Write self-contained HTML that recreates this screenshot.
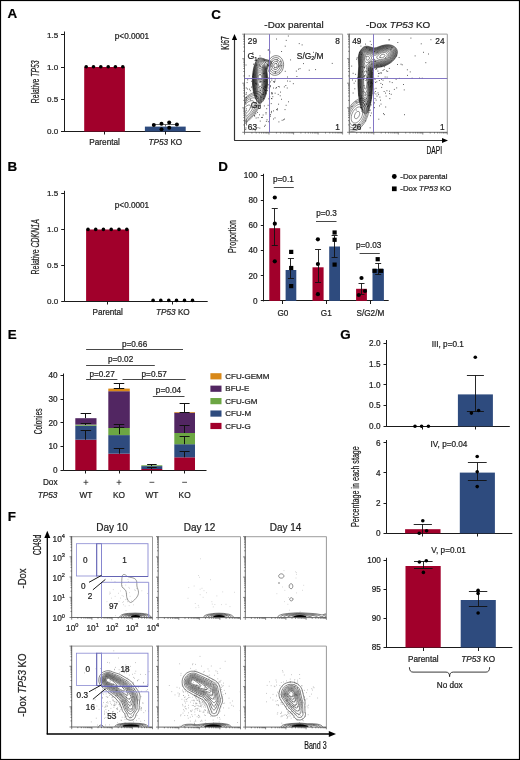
<!DOCTYPE html>
<html><head><meta charset="utf-8"><style>
html,body{margin:0;padding:0;background:#fff;}
svg{display:block;font-family:"Liberation Sans",sans-serif;will-change:transform;}
text{stroke:#222;stroke-width:0.22px;paint-order:stroke;}
</style></head><body>
<svg width="520" height="760" viewBox="0 0 520 760">
<rect x="0" y="0" width="520" height="760" fill="#fff"/>
<text x="7.6" y="18.4" font-size="13.4" font-weight="bold" fill="#000">A</text>
<line x1="64.5" y1="31.5" x2="64.5" y2="132.0" stroke="#1a1a1a" stroke-width="1" />
<line x1="64" y1="131.5" x2="200.5" y2="131.5" stroke="#1a1a1a" stroke-width="1" />
<line x1="61" y1="34.5" x2="64" y2="34.5" stroke="#1a1a1a" stroke-width="1" />
<text x="58.2" y="37.599999999999994" font-size="8.1" text-anchor="end" fill="#222" >1.5</text>
<line x1="61" y1="67.5" x2="64" y2="67.5" stroke="#1a1a1a" stroke-width="1" />
<text x="58.2" y="69.89999999999999" font-size="8.1" text-anchor="end" fill="#222" >1.0</text>
<line x1="61" y1="99.5" x2="64" y2="99.5" stroke="#1a1a1a" stroke-width="1" />
<text x="58.2" y="102.2" font-size="8.1" text-anchor="end" fill="#222" >0.5</text>
<line x1="61" y1="131.5" x2="64" y2="131.5" stroke="#1a1a1a" stroke-width="1" />
<text x="58.2" y="134.3" font-size="8.1" text-anchor="end" fill="#222" >0.0</text>
<rect x="84.2" y="67" width="40.7" height="64.5" fill="#A1002B" />
<rect x="144.9" y="126.6" width="40.8" height="4.900000000000006" fill="#2E4B7E" />
<circle cx="86.2" cy="66.8" r="1.8" fill="#000"/>
<circle cx="93.5" cy="66.8" r="1.8" fill="#000"/>
<circle cx="100.8" cy="66.8" r="1.8" fill="#000"/>
<circle cx="108.2" cy="66.8" r="1.8" fill="#000"/>
<circle cx="115.4" cy="66.8" r="1.8" fill="#000"/>
<circle cx="122.8" cy="66.8" r="1.8" fill="#000"/>
<line x1="104.5" y1="131.5" x2="104.5" y2="134.5" stroke="#1a1a1a" stroke-width="1" />
<line x1="165.5" y1="131.5" x2="165.5" y2="134.5" stroke="#1a1a1a" stroke-width="1" />
<line x1="165.5" y1="124.6" x2="165.5" y2="126.6" stroke="#444" stroke-width="0.8" />
<line x1="153.9" y1="124.5" x2="176.9" y2="124.5" stroke="#444" stroke-width="0.8" />
<circle cx="153.8" cy="124.9" r="2.0" fill="#000"/>
<circle cx="161.5" cy="123.8" r="2.0" fill="#000"/>
<circle cx="169.2" cy="122.6" r="2.0" fill="#000"/>
<circle cx="176.9" cy="124.6" r="2.0" fill="#000"/>
<circle cx="161.5" cy="129.2" r="2.0" fill="#000"/>
<circle cx="169.2" cy="127.7" r="2.0" fill="#000"/>
<text x="114.8" y="39.1" font-size="8.2" text-anchor="start" fill="#222" >p&lt;0.0001</text>
<text x="104.6" y="145.4" font-size="8.2" text-anchor="middle" fill="#222" >Parental</text>
<text x="165.4" y="145.4" font-size="8.2" text-anchor="middle" fill="#222" ><tspan font-style="italic">TP53</tspan> KO</text>
<text transform="translate(39.2,81.85) rotate(-90)" x="0" y="0" font-size="10.3" text-anchor="middle" textLength="42.9" lengthAdjust="spacingAndGlyphs" fill="#222" font-weight="normal">Relative <tspan font-style="italic">TP53</tspan></text>
<text x="7.6" y="170.8" font-size="13.4" font-weight="bold" fill="#000">B</text>
<line x1="64.5" y1="190.8" x2="64.5" y2="301.5" stroke="#1a1a1a" stroke-width="1" />
<line x1="64.2" y1="301.5" x2="207.7" y2="301.5" stroke="#1a1a1a" stroke-width="1" />
<line x1="61.2" y1="193.5" x2="64.2" y2="193.5" stroke="#1a1a1a" stroke-width="1" />
<text x="58.2" y="196.3" font-size="8.1" text-anchor="end" fill="#222" >1.5</text>
<line x1="61.2" y1="229.5" x2="64.2" y2="229.5" stroke="#1a1a1a" stroke-width="1" />
<text x="58.2" y="232.20000000000002" font-size="8.1" text-anchor="end" fill="#222" >1.0</text>
<line x1="61.2" y1="265.5" x2="64.2" y2="265.5" stroke="#1a1a1a" stroke-width="1" />
<text x="58.2" y="268.1" font-size="8.1" text-anchor="end" fill="#222" >0.5</text>
<line x1="61.2" y1="301.5" x2="64.2" y2="301.5" stroke="#1a1a1a" stroke-width="1" />
<text x="58.2" y="303.8" font-size="8.1" text-anchor="end" fill="#222" >0.0</text>
<rect x="86.1" y="229.5" width="43" height="71.5" fill="#A1002B" />
<circle cx="88" cy="229.4" r="1.8" fill="#000"/>
<circle cx="95.7" cy="229.4" r="1.8" fill="#000"/>
<circle cx="103.4" cy="229.4" r="1.8" fill="#000"/>
<circle cx="111.2" cy="229.4" r="1.8" fill="#000"/>
<circle cx="119.0" cy="229.4" r="1.8" fill="#000"/>
<circle cx="126.8" cy="229.4" r="1.8" fill="#000"/>
<circle cx="153.1" cy="300.4" r="1.8" fill="#000"/>
<circle cx="160.8" cy="300.4" r="1.8" fill="#000"/>
<circle cx="168.8" cy="300.4" r="1.8" fill="#000"/>
<circle cx="176.5" cy="300.4" r="1.8" fill="#000"/>
<circle cx="184.5" cy="300.4" r="1.8" fill="#000"/>
<circle cx="192.5" cy="300.4" r="1.8" fill="#000"/>
<line x1="107.5" y1="301" x2="107.5" y2="304.5" stroke="#1a1a1a" stroke-width="1" />
<line x1="172.5" y1="301" x2="172.5" y2="304.5" stroke="#1a1a1a" stroke-width="1" />
<text x="114.8" y="207.9" font-size="8.2" text-anchor="start" fill="#222" >p&lt;0.0001</text>
<text x="107.7" y="315.3" font-size="8.2" text-anchor="middle" fill="#222" >Parental</text>
<text x="172.9" y="315.3" font-size="8.2" text-anchor="middle" fill="#222" ><tspan font-style="italic">TP53</tspan> KO</text>
<text transform="translate(39.4,246.85) rotate(-90)" x="0" y="0" font-size="10.3" text-anchor="middle" textLength="55.30000000000001" lengthAdjust="spacingAndGlyphs" fill="#222" font-weight="normal">Relative <tspan font-style="italic">CDKN1A</tspan></text>
<text x="211.3" y="18.5" font-size="13.4" font-weight="bold" fill="#000">C</text>
<line x1="234.5" y1="140.0" x2="234.5" y2="39" stroke="#333" stroke-width="1.2" />
<path d="M234.5,33.9 L231.9,39.9 L237.1,39.9 Z" fill="#000"/>
<line x1="234.1" y1="140.5" x2="443" y2="140.5" stroke="#333" stroke-width="1.2" />
<path d="M448,140.5 L442,137.9 L442,143.1 Z" fill="#000"/>
<text transform="translate(228.6,43.0) rotate(-90)" x="0" y="0" font-size="10.2" text-anchor="middle" textLength="13.599999999999994" lengthAdjust="spacingAndGlyphs" fill="#111" font-weight="normal">Ki67</text>
<text x="426.5" y="154" font-size="10.2" textLength="15.5" lengthAdjust="spacingAndGlyphs" fill="#111" font-weight="normal" >DAPI</text>
<text x="294" y="27.7" font-size="9.9" text-anchor="middle" fill="#222" >-Dox parental</text>
<text x="398.2" y="27.7" font-size="9.9" text-anchor="middle" fill="#222" >-Dox <tspan font-style="italic">TP53</tspan> KO</text>
<clipPath id="c1"><rect x="244.5" y="34.2" width="98.10000000000002" height="98.10000000000001"/></clipPath>
<clipPath id="c2"><rect x="349.3" y="34.2" width="98.0" height="98.10000000000001"/></clipPath>
<path d="M278.5,121.9h0.84M263.8,73.2h0.84M249.9,90.7h0.84M250.7,58.4h0.84M265.4,92.9h0.84M269.6,69.9h0.84M263.1,88.6h0.84M265.4,86.8h0.84M277.8,94.4h0.84M273.9,82.0h0.84M265.6,112.5h0.84M271.4,92.8h0.84M250.0,99.8h0.84M263.9,105.9h0.84M265.6,113.9h0.84M262.4,94.4h0.84M271.0,66.1h0.84M258.2,79.0h0.84M286.8,88.0h0.84M270.8,103.6h0.84M259.6,55.9h0.84M274.6,81.0h0.84M271.6,61.3h0.84M257.7,117.7h0.84M280.2,61.3h0.84M247.0,89.0h0.84M271.7,93.5h0.84M266.6,68.2h0.84M270.0,114.6h0.84M257.8,58.5h0.84M253.9,106.8h0.84M251.1,87.1h0.84M260.1,90.3h0.84M281.0,99.3h0.84M279.0,86.9h0.84M257.2,98.3h0.84M264.9,62.8h0.84M268.6,77.7h0.84M251.3,78.5h0.84M261.2,117.5h0.84M264.2,89.4h0.84M267.7,50.1h0.84M277.9,66.3h0.84M268.3,65.2h0.84M251.3,81.3h0.84M285.7,105.3h0.84M255.7,83.7h0.84M249.2,89.2h0.84M256.1,105.9h0.84M246.7,82.6h0.84M252.9,74.2h0.84M271.5,92.8h0.84M270.0,116.2h0.84M276.8,59.8h0.84M269.4,51.3h0.84M260.7,81.9h0.84M265.0,90.4h0.84M263.3,73.3h0.84M276.0,109.6h0.84M260.5,96.9h0.84M270.9,112.7h0.84M267.7,105.3h0.84M259.8,66.5h0.84M257.1,112.4h0.84M274.7,93.2h0.84M256.2,96.8h0.84M283.0,119.8h0.84M254.8,89.0h0.84M245.6,65.0h0.84M265.3,90.5h0.84M274.6,117.9h0.84M273.0,119.0h0.84M256.4,65.2h0.84M267.3,64.7h0.84M265.9,121.4h0.84M250.6,107.7h0.84M255.7,118.0h0.84M272.4,96.7h0.84M287.0,81.0h0.84M254.8,130.8h0.84M262.5,67.2h0.84M263.0,92.9h0.84M265.4,85.8h0.84M276.0,39.0h0.84M256.3,84.2h0.84M284.8,46.2h0.84M258.9,64.9h0.84M255.0,104.1h0.84M267.9,121.7h0.84M255.8,95.9h0.84M277.1,109.9h0.84M259.0,114.8h0.84M251.9,129.7h0.84M264.9,87.5h0.84M266.3,108.7h0.84M283.9,86.9h0.84M258.6,102.9h0.84M252.5,52.7h0.84M273.0,81.7h0.84M276.5,67.4h0.84M264.9,125.2h0.84M269.3,96.8h0.84M270.0,81.9h0.84M263.9,60.3h0.84M269.2,72.3h0.84M257.7,105.4h0.84M274.0,67.8h0.84M287.0,77.0h0.84M273.0,110.9h0.84M265.7,93.8h0.84M284.6,109.6h0.84M268.3,49.9h0.84M254.0,115.6h0.84M265.3,69.0h0.84M255.3,83.3h0.84M271.2,98.5h0.84M275.0,72.0h0.84M274.8,79.0h0.84M259.4,128.1h0.84M263.9,86.9h0.84M260.5,81.5h0.84M281.7,120.3h0.84M271.6,94.1h0.84M275.5,88.3h0.84M268.4,98.8h0.84M264.1,126.3h0.84M284.1,119.1h0.84M271.4,80.1h0.84M262.7,115.0h0.84M277.1,108.8h0.84M264.7,90.8h0.84M273.0,88.0h0.84M252.2,76.3h0.84M261.3,97.3h0.84M290.2,59.9h0.84M268.7,88.0h0.84M266.6,119.8h0.84M277.9,86.5h0.84M256.3,60.0h0.84M262.1,117.4h0.84M259.8,105.5h0.84M271.5,98.7h0.84M276.0,87.5h0.84M253.0,64.2h0.84M274.1,82.0h0.84M259.3,108.4h0.84M253.5,128.9h0.84M271.0,78.4h0.84M255.4,113.8h0.84M248.8,75.9h0.84M263.1,94.5h0.84M263.2,98.5h0.84M258.6,87.3h0.84M278.2,104.2h0.84M257.6,127.7h0.84M271.0,111.4h0.84M264.3,81.5h0.84M270.0,85.7h0.84" stroke="#222" stroke-width="0.84" fill="none"/>
<path d="M331.8,63.4h0.84M292.9,83.7h0.84M301.7,44.9h0.84M276.7,61.2h0.84M263.5,58.9h0.84M274.8,72.8h0.84M266.9,90.6h0.84M308.8,70.2h0.84M270.1,86.7h0.84M289.6,81.3h0.84M267.9,84.8h0.84M254.3,116.1h0.84M259.7,74.8h0.84M285.4,85.5h0.84M280.1,92.1h0.84M279.2,65.9h0.84M313.0,52.3h0.84M287.9,36.0h0.84M296.5,76.5h0.84M285.8,40.4h0.84M261.1,87.4h0.84M247.3,79.8h0.84M259.8,121.1h0.84M303.0,63.6h0.84M281.2,51.5h0.84M288.1,101.8h0.84M281.2,65.7h0.84M298.2,69.2h0.84M299.6,68.6h0.84M315.2,69.6h0.84M260.9,79.2h0.84M269.5,52.9h0.84M279.8,95.8h0.84M279.3,73.1h0.84M298.8,43.6h0.84M295.9,71.1h0.84M284.8,71.3h0.84M275.8,63.6h0.84" stroke="#222" stroke-width="0.84" fill="none"/>
<path d="M260.5,103.0 259.8,103.0 259.0,102.8 258.2,102.4 257.5,101.8 256.2,100.0 254.9,97.2 253.8,93.7 253.1,90.0 252.6,85.7 252.4,81.0 252.5,76.2 252.9,72.2 253.6,68.2 254.6,64.5 255.9,61.5 257.2,59.5 258.0,58.6 258.8,58.1 259.5,57.9 260.2,57.8 261.5,58.0 264.8,59.3 268.2,60.1 269.8,60.6 270.5,61.0 271.2,61.7 271.5,62.2 271.7,63.0 271.6,63.7 271.0,64.6 270.0,65.3 267.5,66.7 267.1,67.2 266.8,68.0 266.7,69.5 267.4,75.5 267.6,80.7 267.4,86.0 266.7,91.2 265.6,95.7 264.9,97.7 264.1,99.5 263.2,100.9 262.3,102.0 261.5,102.6 260.5,103.0Z M260.0,102.2 259.2,102.1 258.5,101.7 257.8,101.2 257.1,100.5 255.9,98.5 254.7,95.5 253.8,92.2 253.2,88.2 252.8,84.2 252.7,79.7 252.9,75.5 253.4,71.2 254.1,67.5 255.1,64.2 256.2,61.7 257.5,59.9 258.2,59.2 259.0,58.8 259.8,58.5 260.5,58.5 261.8,58.7 264.8,59.8 267.8,60.4 269.0,60.8 269.7,61.2 270.4,61.7 270.7,62.2 270.9,63.0 270.8,63.7 270.2,64.4 269.5,65.0 267.2,66.3 266.7,67.0 266.4,67.7 266.4,69.2 267.2,76.5 267.3,82.5 267.1,85.5 266.8,88.5 266.3,91.5 265.6,94.5 264.5,97.7 263.9,99.0 263.1,100.2 262.2,101.2 261.5,101.7 260.8,102.1 260.0,102.2Z M260.8,101.2 260.0,101.4 259.2,101.2 258.5,100.9 257.9,100.5 257.2,99.7 256.6,98.7 255.4,96.2 254.4,93.0 253.6,89.2 253.1,85.2 253.0,81.0 253.1,76.5 253.5,72.2 254.2,68.7 255.2,65.2 256.2,62.7 257.5,60.8 258.2,60.0 259.0,59.6 259.8,59.3 260.5,59.2 261.8,59.4 264.5,60.3 268.3,61.2 269.5,62.0 269.9,62.5 270.0,63.0 269.9,63.5 269.5,64.1 266.8,66.0 266.4,66.5 266.0,67.2 266.0,68.7 266.7,74.5 267.0,79.5 266.9,84.5 266.4,89.2 265.4,94.0 264.1,97.5 263.3,99.0 262.5,100.0 261.8,100.7 260.8,101.2Z M260.2,100.5 259.5,100.4 258.8,100.1 257.5,99.1 256.2,97.1 255.2,94.5 254.3,91.2 253.7,87.5 253.3,83.7 253.3,79.7 253.4,76.0 253.9,72.0 254.6,68.5 255.6,65.2 256.8,62.8 258.0,61.1 259.2,60.2 260.0,60.0 260.8,60.0 262.0,60.2 267.4,61.7 268.3,62.2 268.5,62.5 268.7,63.0 268.6,63.5 268.2,64.0 266.8,65.0 266.1,65.7 265.8,66.3 265.5,67.2 265.6,68.7 266.5,75.0 266.7,80.2 266.7,83.2 266.5,86.2 266.1,89.0 265.6,91.5 264.6,95.2 263.3,98.0 262.5,99.1 261.8,99.8 261.0,100.3 260.2,100.5Z M260.5,99.5 259.8,99.6 259.2,99.4 258.5,99.0 257.8,98.5 256.6,96.7 255.6,94.5 254.7,91.2 254.1,88.0 253.7,84.0 253.6,80.2 253.7,76.5 254.1,72.7 254.8,69.2 255.7,66.2 256.9,63.7 258.0,62.1 259.2,61.1 260.0,60.8 260.8,60.8 262.2,61.0 265.0,62.0 266.2,62.6 266.6,63.0 266.6,63.2 266.5,63.7 265.3,65.5 265.0,67.0 265.1,68.5 266.1,74.2 266.4,78.7 266.3,84.0 265.7,89.2 264.8,93.2 264.2,95.0 263.5,96.5 262.8,97.7 262.0,98.6 261.2,99.2 260.5,99.5Z M260.8,98.5 260.2,98.6 259.5,98.5 258.8,98.2 258.2,97.8 257.0,96.3 255.9,94.0 255.1,91.2 254.4,87.7 254.0,84.2 253.9,80.5 254.0,76.7 254.4,73.2 255.0,70.0 255.9,67.2 256.8,65.0 258.0,63.1 259.2,62.0 260.0,61.7 260.8,61.6 262.0,61.8 263.2,62.3 264.1,63.0 264.5,63.7 264.4,67.0 265.7,74.2 266.0,77.5 266.1,80.5 266.0,83.7 265.7,87.0 265.2,90.0 264.6,92.5 263.8,94.7 262.9,96.5 261.8,97.8 260.8,98.5Z M260.5,97.5 259.8,97.6 259.2,97.4 258.5,97.0 258.0,96.5 257.0,95.1 256.1,93.0 255.2,90.0 254.7,87.0 254.3,83.7 254.2,80.2 254.4,76.7 254.8,73.2 255.4,70.2 256.2,67.7 257.2,65.5 258.2,64.0 259.5,63.0 260.8,62.7 261.8,62.9 262.5,63.3 263.1,64.0 263.4,64.7 264.9,71.5 265.3,74.0 265.7,77.5 265.8,81.0 265.6,84.0 265.3,87.0 264.9,89.7 264.2,92.2 263.4,94.2 262.5,95.9 261.5,97.0 260.5,97.5Z M260.2,96.5 259.5,96.4 259.0,96.2 258.0,95.4 257.1,94.0 256.2,92.0 255.6,89.7 255.0,86.7 254.7,83.5 254.6,80.2 254.7,77.2 255.1,74.0 255.6,71.2 256.4,68.7 257.2,66.7 258.2,65.2 259.2,64.3 259.8,64.1 260.5,63.9 261.5,64.2 262.0,64.6 262.4,65.2 263.0,66.5 263.9,69.5 264.6,72.2 265.1,75.0 265.3,78.0 265.4,81.0 265.3,84.0 264.9,87.0 264.5,89.5 263.9,91.7 263.0,93.7 262.2,95.0 261.2,96.1 260.2,96.5Z M260.5,95.3 259.5,95.3 258.5,94.7 257.5,93.4 256.7,91.7 256.0,89.5 255.5,86.7 255.1,84.0 255.0,81.0 255.1,78.0 255.4,75.0 255.9,72.2 256.5,70.0 257.2,68.1 258.2,66.5 259.2,65.6 260.2,65.3 260.8,65.4 261.2,65.7 262.0,66.5 262.8,67.9 263.6,70.2 264.2,72.5 264.6,75.0 264.9,77.5 265.0,80.2 264.9,83.0 264.7,85.7 264.3,88.2 263.7,90.5 263.0,92.4 262.2,93.8 261.5,94.7 260.5,95.3Z M260.5,94.0 260.0,94.1 259.5,94.0 258.8,93.6 257.8,92.3 257.0,90.8 256.4,88.7 255.9,86.5 255.6,84.0 255.4,81.2 255.5,78.7 255.7,76.0 256.1,73.5 256.7,71.2 257.5,69.2 258.2,67.9 259.0,67.2 259.5,66.9 260.0,66.8 260.8,66.9 261.7,67.7 262.4,69.0 263.1,70.5 263.7,72.5 264.1,74.7 264.4,77.2 264.6,79.7 264.5,82.2 264.4,84.7 264.0,87.0 263.5,89.2 262.9,91.0 262.2,92.5 261.2,93.6 260.5,94.0Z M260.8,92.5 260.2,92.7 259.8,92.7 259.0,92.3 258.2,91.5 257.5,90.2 256.9,88.5 256.4,86.5 256.1,84.2 255.9,81.7 255.9,79.2 256.1,76.7 256.4,74.5 256.9,72.5 257.5,70.8 258.2,69.5 259.0,68.7 259.5,68.4 260.0,68.3 260.8,68.5 261.5,69.1 262.2,70.2 262.8,71.5 263.2,73.0 263.7,75.0 264.0,77.2 264.1,79.5 263.9,84.0 263.7,86.0 263.3,88.0 262.8,89.6 262.1,91.0 261.5,91.8 260.8,92.5Z M260.5,91.0 259.8,91.1 259.0,90.7 258.2,89.8 257.8,88.8 257.2,87.2 256.8,85.5 256.6,83.5 256.4,81.2 256.6,77.0 257.0,75.0 257.4,73.2 257.9,72.0 258.5,70.9 259.2,70.1 260.0,69.9 260.8,70.1 261.2,70.5 261.9,71.5 262.4,72.7 262.9,74.2 263.2,76.0 263.6,79.7 263.4,83.7 262.8,87.2 262.3,88.7 261.8,89.8 261.2,90.5 260.5,91.0Z M260.2,89.2 259.5,89.1 259.0,88.7 258.5,88.1 258.0,87.0 257.3,84.2 257.0,81.0 257.2,77.5 257.9,74.5 258.2,73.4 258.8,72.6 259.2,72.0 260.0,71.7 260.5,71.9 261.0,72.2 261.5,73.0 262.1,74.2 262.7,77.0 263.0,80.2 262.8,83.5 262.2,86.2 261.8,87.6 261.2,88.4 260.8,89.0 260.2,89.2Z M260.5,86.7 260.0,86.9 259.5,86.7 258.8,85.7 258.1,83.7 257.9,81.2 258.0,78.5 258.4,76.2 259.1,74.7 259.5,74.3 260.0,74.1 260.4,74.2 260.8,74.5 261.5,75.9 261.9,77.7 262.1,79.7 262.1,82.0 261.8,84.2 261.2,85.7 260.5,86.7Z M260.0,82.8 259.8,82.6 259.5,82.2 259.2,80.5 259.5,78.8 259.8,78.4 260.0,78.2 260.2,78.4 260.5,78.8 260.8,80.5 260.5,82.2 260.2,82.6 260.0,82.8Z" fill="none" stroke="#111" stroke-width="0.5" clip-path="url(#c1)"/>
<path d="M276.2,75.2 274.5,75.3 273.0,75.1 271.5,74.4 270.0,73.2 268.9,71.7 268.1,70.2 267.6,68.5 267.4,66.5 267.5,64.5 268.0,62.5 268.8,60.5 269.8,59.0 271.2,57.5 272.8,56.5 274.5,55.8 276.0,55.7 277.5,55.8 279.0,56.3 280.2,57.1 281.4,58.2 282.4,59.7 283.0,61.2 283.5,63.0 283.6,64.7 283.5,66.5 283.1,68.2 282.5,70.0 281.6,71.5 280.5,72.8 279.2,73.9 277.8,74.7 276.2,75.2Z M276.5,73.2 275.0,73.4 273.8,73.3 272.5,72.8 271.4,72.0 270.3,70.7 269.6,69.5 269.2,68.0 269.0,66.5 269.1,64.7 269.4,63.2 270.0,61.7 270.8,60.5 271.8,59.4 273.0,58.4 274.2,57.9 275.8,57.6 277.0,57.7 278.0,58.0 279.0,58.5 280.0,59.5 280.8,60.5 281.4,61.7 281.8,63.0 282.0,64.5 282.0,66.0 281.7,67.5 281.3,68.7 280.6,70.0 279.8,71.1 278.8,72.1 277.8,72.7 276.5,73.2Z M275.5,71.5 274.5,71.4 273.5,71.1 272.8,70.7 271.9,70.0 271.3,69.0 270.9,68.0 270.6,67.0 270.6,65.7 270.7,64.5 271.1,63.2 271.6,62.2 272.2,61.3 273.0,60.6 274.0,59.9 275.0,59.6 276.0,59.5 277.0,59.7 277.8,60.0 278.5,60.5 279.2,61.3 279.8,62.2 280.2,63.2 280.4,64.2 280.4,65.5 280.3,66.5 280.0,67.7 279.0,69.5 278.2,70.2 277.5,70.8 276.5,71.3 275.5,71.5Z M276.0,69.5 274.8,69.5 274.0,69.3 273.5,68.9 273.0,68.4 272.6,67.7 272.2,66.2 272.2,65.2 272.3,64.5 273.0,63.0 274.1,62.0 274.8,61.6 275.5,61.4 276.8,61.6 277.8,62.3 278.5,63.5 278.8,65.0 278.7,66.5 278.2,67.7 277.2,68.8 276.0,69.5Z M276.0,67.5 275.2,67.6 274.5,67.3 274.0,66.7 273.8,66.0 273.8,65.0 274.2,64.2 274.8,63.6 275.5,63.4 276.0,63.4 276.6,63.7 277.0,64.2 277.2,65.0 277.2,65.7 277.0,66.5 276.5,67.2 276.0,67.5Z" fill="none" stroke="#333" stroke-width="0.6" clip-path="url(#c1)"/>
<path d="M244.5,98.3 247.5,95.9 250.8,93.8 253.8,92.4 256.2,91.7 257.5,91.7 258.5,91.7 259.5,92.0 260.2,92.4 260.9,93.0 261.4,93.7 261.9,94.7 262.1,95.7 262.2,97.0 262.1,98.5 261.8,100.2 261.3,102.0 259.8,105.7 257.6,109.7 254.9,113.7 251.6,117.7 248.0,121.3 244.5,124.1 M244.5,99.6 247.2,97.3 250.0,95.5 252.5,94.3 255.0,93.6 257.0,93.5 258.0,93.7 258.8,94.0 259.3,94.5 259.9,95.2 260.3,96.0 260.5,97.0 260.6,98.2 260.6,99.5 260.3,101.0 259.8,102.7 258.4,106.2 256.4,110.0 253.8,113.7 250.8,117.2 247.8,120.2 244.5,122.8 M244.5,101.0 247.0,98.9 249.5,97.3 252.0,96.1 254.0,95.5 255.8,95.5 256.5,95.6 257.2,96.0 258.2,97.0 258.6,97.7 258.8,98.5 258.9,99.5 258.8,100.7 258.2,103.5 256.9,106.7 255.1,110.0 252.9,113.2 250.2,116.3 247.5,119.0 244.5,121.4 M244.5,102.6 246.8,100.8 248.8,99.4 250.8,98.4 252.5,97.9 254.0,97.8 255.2,98.1 255.8,98.5 256.2,99.0 256.7,100.2 256.8,101.2 256.8,102.2 256.3,104.5 255.2,107.2 253.7,110.0 251.8,112.7 249.4,115.5 247.0,117.8 244.5,119.8 M244.5,104.7 246.0,103.4 247.8,102.1 249.2,101.3 250.8,100.8 252.0,100.6 253.0,100.9 253.8,101.5 254.2,102.5 254.3,104.0 253.8,106.0 253.0,108.0 251.7,110.2 250.1,112.5 248.4,114.5 246.5,116.2 244.5,117.7 M244.5,107.8 246.5,106.0 248.2,105.1 249.0,104.9 249.5,105.0 250.0,105.2 250.4,105.7 250.5,106.5 250.3,107.7 249.8,109.0 249.0,110.3 248.0,111.6 247.0,112.7 245.8,113.8 244.5,114.6" fill="none" stroke="#222" stroke-width="0.5" clip-path="url(#c1)"/>
<path d="M370.9,113.0h0.84M360.7,107.8h0.84M367.4,82.8h0.84M389.0,91.2h0.84M369.6,102.6h0.84M381.3,87.4h0.84M375.9,68.5h0.84M366.3,79.2h0.84M356.7,57.8h0.84M353.7,83.2h0.84M368.3,81.6h0.84M370.7,61.3h0.84M369.2,92.8h0.84M377.5,71.1h0.84M366.0,47.7h0.84M365.0,44.1h0.84M355.8,110.0h0.84M373.3,81.8h0.84M374.6,98.5h0.84M380.5,83.4h0.84M364.1,75.9h0.84M360.1,87.1h0.84M362.1,109.4h0.84M351.3,66.1h0.84M360.5,46.1h0.84M389.0,39.8h0.84M367.2,77.5h0.84M386.6,48.3h0.84M380.7,73.4h0.84M368.4,74.6h0.84M376.4,65.2h0.84M369.2,95.1h0.84M388.4,39.9h0.84M385.3,107.0h0.84M365.2,94.1h0.84M365.3,120.9h0.84M372.1,83.7h0.84M367.7,84.0h0.84M368.2,70.4h0.84M390.6,49.8h0.84M368.5,95.4h0.84M368.0,85.0h0.84M373.3,107.4h0.84M365.5,80.5h0.84M389.4,98.6h0.84M377.8,76.2h0.84M358.3,94.0h0.84M361.7,66.8h0.84M357.0,77.9h0.84M381.1,79.3h0.84M355.5,101.4h0.84M370.7,104.9h0.84M382.0,84.6h0.84M368.6,87.1h0.84M358.7,101.4h0.84M383.7,91.5h0.84M367.6,82.8h0.84M362.2,71.9h0.84M366.0,71.2h0.84M365.6,56.5h0.84M373.5,89.0h0.84M358.5,42.0h0.84M369.9,110.1h0.84M362.7,78.3h0.84M364.3,101.1h0.84M360.8,107.7h0.84M367.0,106.5h0.84M370.3,83.4h0.84M355.2,74.3h0.84M367.4,101.2h0.84M372.4,74.1h0.84M374.1,107.7h0.84M368.5,79.2h0.84M366.1,104.2h0.84M375.4,69.4h0.84M373.7,78.4h0.84M362.5,112.8h0.84M378.2,73.5h0.84M370.8,98.0h0.84M363.6,85.6h0.84M376.7,52.2h0.84M373.3,102.8h0.84M375.0,61.2h0.84M373.2,70.7h0.84M375.7,100.1h0.84M372.2,72.7h0.84M364.1,105.1h0.84M361.0,97.9h0.84M375.1,82.4h0.84M393.9,89.4h0.84M391.5,47.7h0.84M376.4,81.8h0.84M369.5,49.9h0.84M363.7,67.3h0.84M367.8,105.7h0.84M370.5,95.4h0.84M363.0,79.3h0.84M371.1,82.4h0.84M382.6,70.5h0.84M388.9,68.4h0.84M380.6,72.5h0.84M386.5,90.7h0.84M374.0,102.9h0.84M363.7,67.2h0.84M363.0,76.2h0.84M369.7,127.8h0.84M352.7,93.0h0.84M366.0,98.6h0.84M352.0,80.0h0.84M378.4,119.2h0.84M386.0,70.9h0.84M370.5,85.8h0.84M356.2,59.2h0.84M377.6,92.9h0.84M368.6,112.3h0.84M360.0,98.5h0.84M370.1,86.8h0.84M374.9,91.5h0.84M372.7,93.3h0.84M389.4,81.8h0.84M380.1,100.2h0.84M366.5,103.9h0.84M361.4,111.2h0.84M361.9,78.2h0.84M373.2,104.6h0.84M379.1,105.9h0.84M367.9,68.9h0.84M375.5,94.0h0.84M360.5,107.5h0.84M372.0,68.8h0.84M374.4,61.5h0.84M361.2,96.0h0.84M354.4,88.8h0.84M356.5,102.7h0.84M362.7,91.7h0.84M355.0,81.1h0.84M379.5,97.1h0.84M351.6,106.5h0.84M378.9,80.5h0.84M384.2,66.8h0.84M369.1,110.3h0.84M383.1,113.6h0.84M359.1,52.4h0.84M373.9,59.4h0.84M368.7,62.4h0.84M380.6,104.1h0.84M375.6,88.3h0.84M370.5,82.0h0.84M373.8,93.0h0.84M374.6,79.4h0.84M389.0,93.6h0.84M383.9,114.6h0.84M361.2,54.3h0.84M382.6,80.2h0.84M370.8,82.8h0.84M371.3,64.2h0.84M369.0,78.7h0.84M369.8,41.3h0.84M378.2,94.6h0.84M352.7,73.3h0.84M370.3,100.6h0.84M370.0,115.7h0.84M370.2,68.0h0.84M363.2,102.9h0.84M363.9,104.8h0.84" stroke="#222" stroke-width="0.84" fill="none"/>
<path d="M395.7,79.3h0.84M386.7,77.1h0.84M411.7,78.2h0.84M423.1,52.3h0.84M396.2,55.9h0.84M380.9,66.3h0.84M399.0,78.4h0.84M404.1,114.7h0.84M410.5,38.1h0.84M398.7,57.5h0.84M385.7,96.1h0.84M400.6,64.2h0.84M373.9,51.6h0.84M383.7,69.5h0.84M387.3,71.4h0.84M428.1,54.0h0.84M380.5,65.0h0.84M414.7,55.9h0.84M420.8,43.8h0.84M376.4,68.9h0.84M379.5,57.6h0.84M403.1,84.5h0.84M397.1,64.5h0.84M419.2,78.1h0.84M390.8,94.3h0.84M378.8,73.3h0.84M406.9,69.8h0.84M384.7,77.0h0.84M385.3,58.1h0.84M376.6,96.1h0.84M385.1,93.1h0.84M401.8,64.8h0.84M407.0,75.4h0.84M397.4,42.5h0.84M396.3,87.9h0.84M403.8,89.9h0.84M421.8,78.2h0.84M430.5,39.7h0.84M409.8,71.9h0.84M425.4,62.7h0.84M358.5,95.6h0.84M370.9,44.6h0.84M391.8,82.6h0.84" stroke="#222" stroke-width="0.84" fill="none"/>
<path d="M365.8,113.7 365.1,113.8 364.6,113.7 363.6,112.9 362.6,111.5 361.6,109.5 360.7,106.7 359.9,103.5 359.2,99.7 358.6,95.5 358.2,89.7 358.0,83.5 358.1,76.0 358.7,66.2 358.2,58.2 358.5,55.5 359.3,52.7 360.4,50.5 361.9,48.5 363.6,47.0 364.3,46.6 365.3,46.3 366.6,46.2 367.8,46.3 369.3,46.6 372.8,47.7 374.6,47.9 376.3,47.6 381.8,45.6 385.3,44.9 387.3,44.7 389.3,44.8 391.1,45.1 392.6,45.6 394.3,46.5 395.8,47.7 396.4,48.5 396.9,49.5 397.4,51.2 397.4,53.2 396.9,55.2 395.9,57.2 394.5,59.2 392.9,61.0 391.1,62.5 389.1,63.8 386.8,65.0 384.3,66.1 381.8,66.8 374.8,67.9 373.6,68.6 373.1,69.1 372.8,69.6 372.5,70.7 372.4,72.2 372.6,81.2 372.5,88.5 372.1,94.0 371.4,99.7 370.3,105.5 369.6,107.7 368.9,109.7 368.2,111.2 367.4,112.5 366.6,113.4 365.8,113.7Z M365.6,112.7 364.8,112.6 364.3,112.4 363.3,111.5 362.3,109.8 361.4,107.7 360.6,105.2 359.9,101.7 359.2,97.7 358.7,93.7 358.4,88.5 358.2,82.7 358.4,75.7 359.0,66.0 358.6,58.0 358.9,55.2 359.6,52.7 360.8,50.5 362.3,48.6 363.8,47.4 364.6,47.1 365.6,46.7 366.8,46.6 368.1,46.8 373.1,48.2 374.6,48.4 375.6,48.2 376.5,48.0 381.8,46.0 385.1,45.3 387.1,45.2 389.1,45.2 390.8,45.5 392.3,46.0 394.1,47.0 395.4,48.2 396.4,49.7 396.8,51.5 396.8,53.2 396.3,55.2 395.4,57.2 394.0,59.2 392.3,60.9 390.6,62.4 388.8,63.5 386.6,64.7 384.3,65.6 381.8,66.4 379.6,66.8 375.8,67.2 374.6,67.5 373.3,68.2 372.6,69.2 372.3,70.2 372.1,71.7 372.4,81.2 372.2,88.5 371.9,93.7 371.1,99.5 370.0,105.0 369.4,107.0 368.7,109.0 368.0,110.5 367.1,111.7 366.3,112.4 365.6,112.7Z M365.8,111.5 365.3,111.6 364.8,111.5 363.8,110.9 362.8,109.5 361.7,107.2 360.9,104.7 360.2,101.5 359.5,97.5 359.0,93.5 358.6,88.2 358.5,82.5 358.6,75.7 359.3,66.0 358.9,58.2 359.2,55.5 359.9,53.0 360.9,51.0 362.3,49.2 363.8,48.0 364.6,47.6 365.6,47.3 366.8,47.1 368.3,47.3 373.1,48.6 374.6,48.8 376.4,48.5 381.6,46.5 384.8,45.8 386.8,45.6 388.6,45.7 390.3,45.9 391.8,46.4 393.6,47.3 394.8,48.5 395.8,50.0 396.2,51.7 396.2,53.5 395.7,55.5 394.7,57.5 393.4,59.2 391.9,60.7 390.3,62.0 388.3,63.4 386.3,64.4 384.1,65.3 381.6,66.0 379.6,66.4 375.8,66.8 374.3,67.1 373.1,67.8 372.6,68.3 372.2,69.0 372.0,70.0 371.8,71.5 372.1,80.7 372.0,87.7 371.6,93.0 371.0,98.5 369.9,103.7 368.7,107.7 368.1,109.1 367.3,110.3 366.6,111.1 365.8,111.5Z M366.1,110.2 365.6,110.4 365.1,110.4 364.6,110.2 364.1,109.9 363.1,108.7 362.1,106.7 361.2,104.2 360.5,101.2 359.9,98.0 359.4,94.0 358.8,87.0 358.8,79.5 359.0,74.7 359.6,66.0 359.6,63.7 359.2,59.5 359.2,57.7 359.5,55.5 360.2,53.2 361.2,51.2 362.6,49.6 364.1,48.4 364.8,48.0 365.8,47.7 367.1,47.6 368.6,47.8 373.1,49.1 374.6,49.3 376.3,49.0 381.8,46.9 384.6,46.3 386.6,46.1 388.3,46.1 390.1,46.4 391.6,46.9 393.1,47.7 394.4,49.0 395.3,50.5 395.7,52.2 395.5,54.0 394.9,56.0 393.9,57.7 392.6,59.4 391.1,60.9 389.6,62.1 387.8,63.2 386.1,64.1 384.1,64.9 381.6,65.6 379.6,65.9 375.6,66.3 374.1,66.7 373.3,67.0 372.7,67.5 372.3,68.0 371.9,68.7 371.6,69.7 371.5,71.2 371.8,80.0 371.8,86.5 371.4,92.0 370.9,96.7 370.0,102.0 368.8,106.0 368.2,107.5 367.6,108.7 366.8,109.7 366.1,110.2Z M366.1,109.0 365.6,109.1 365.1,109.1 364.6,109.0 364.1,108.6 363.1,107.4 362.1,105.5 361.4,103.2 360.6,100.0 360.0,96.2 359.5,92.5 359.1,87.2 359.0,81.7 359.2,75.5 359.9,66.0 359.6,58.2 359.9,55.7 360.5,53.5 361.6,51.5 362.8,49.9 364.3,48.8 365.8,48.2 367.1,48.1 368.6,48.3 373.1,49.6 374.6,49.8 376.3,49.5 381.6,47.4 384.3,46.8 386.1,46.6 387.8,46.6 389.6,46.9 391.1,47.3 392.6,48.2 393.9,49.5 394.7,51.0 395.0,52.5 394.9,54.2 394.3,56.0 393.3,57.7 391.9,59.5 390.6,60.7 389.1,61.9 387.6,62.8 385.6,63.8 383.6,64.6 381.3,65.1 379.6,65.4 375.6,65.8 374.1,66.1 373.3,66.5 372.5,67.0 372.1,67.5 371.6,68.4 371.3,69.5 371.2,71.0 371.5,79.5 371.5,86.0 371.2,91.2 370.7,96.0 369.8,100.7 368.7,104.7 368.1,106.2 367.5,107.5 366.8,108.4 366.1,109.0Z M365.8,107.8 365.3,107.9 364.8,107.8 364.3,107.5 363.8,107.0 362.9,105.7 362.1,104.0 361.4,101.5 360.7,98.5 360.2,95.2 359.7,91.2 359.4,86.2 359.3,81.2 359.5,75.5 360.3,66.0 360.0,58.2 360.2,55.7 361.0,53.5 361.9,51.7 363.1,50.3 364.6,49.3 366.1,48.7 367.3,48.6 368.8,48.8 373.1,50.1 374.6,50.3 376.1,50.1 381.1,48.1 384.1,47.3 385.8,47.1 387.6,47.1 389.1,47.3 390.6,47.8 392.1,48.6 393.2,49.7 394.0,51.2 394.3,52.7 394.2,54.2 393.6,56.0 392.6,57.7 391.2,59.5 389.8,60.7 388.3,61.8 386.6,62.8 385.1,63.5 383.3,64.2 381.3,64.7 379.6,64.9 375.6,65.3 374.1,65.6 373.1,66.0 372.3,66.5 371.8,67.0 371.3,67.8 371.0,69.0 370.8,70.7 371.2,79.0 371.2,85.5 370.9,90.5 370.4,95.2 369.6,100.0 368.5,104.0 367.8,105.5 367.3,106.5 366.6,107.3 365.8,107.8Z M365.6,106.5 365.1,106.5 364.6,106.3 363.8,105.6 362.9,104.2 362.1,102.2 361.4,99.7 360.8,96.7 360.3,93.7 359.9,90.0 359.7,84.5 359.7,78.7 359.9,74.2 360.7,65.5 360.4,58.2 360.7,55.7 361.3,53.7 362.3,52.0 363.4,50.7 364.8,49.7 366.3,49.2 367.6,49.2 368.8,49.3 373.1,50.7 374.6,50.9 376.1,50.6 381.1,48.6 384.1,47.8 385.8,47.6 387.3,47.7 388.8,47.9 390.3,48.4 391.8,49.3 392.8,50.4 393.4,51.7 393.6,53.2 393.4,54.7 392.7,56.5 391.8,58.0 390.4,59.5 389.1,60.7 387.8,61.5 386.3,62.4 384.8,63.1 382.8,63.8 381.1,64.2 375.6,64.7 373.8,65.1 372.8,65.5 372.1,66.0 371.3,66.7 370.9,67.5 370.6,68.7 370.5,70.2 370.9,78.7 370.9,85.0 370.7,90.0 370.2,94.5 369.3,99.2 368.2,103.0 367.7,104.2 367.1,105.3 366.3,106.1 365.6,106.5Z M365.8,105.0 365.3,105.1 364.8,105.0 364.1,104.4 363.3,103.4 362.4,101.5 361.8,99.2 361.1,96.5 360.6,93.2 360.3,89.5 360.0,84.0 360.0,78.7 360.3,74.5 361.1,65.5 360.8,58.2 361.1,56.0 361.7,54.0 362.5,52.5 363.6,51.2 364.8,50.4 366.3,49.8 367.6,49.7 368.8,49.9 370.3,50.3 373.3,51.4 374.8,51.5 376.6,51.1 381.1,49.1 383.6,48.5 385.3,48.3 386.8,48.3 388.3,48.5 389.6,48.9 391.0,49.7 392.0,50.7 392.6,52.0 392.8,53.2 392.6,54.7 392.1,56.2 391.2,57.7 389.8,59.3 388.4,60.5 386.8,61.5 385.1,62.4 383.3,63.1 380.3,63.7 375.1,64.1 373.3,64.6 372.3,65.1 371.5,65.7 370.8,66.5 370.5,67.2 370.1,68.5 370.1,70.0 370.5,77.7 370.6,83.7 370.4,88.5 370.0,93.0 369.2,97.7 368.3,101.2 367.7,102.7 367.1,103.8 366.5,104.5 365.8,105.0Z M365.6,103.5 365.1,103.5 364.6,103.3 363.8,102.5 363.1,101.2 362.4,99.5 361.7,97.0 361.2,94.2 360.5,88.0 360.3,83.0 360.4,77.7 360.7,73.7 361.6,65.5 361.2,58.2 361.5,56.2 362.1,54.2 363.0,52.7 364.1,51.6 365.3,50.8 366.6,50.4 367.8,50.3 369.1,50.5 370.3,50.9 373.3,52.0 374.8,52.2 376.3,51.9 380.6,49.9 383.3,49.1 384.8,48.9 386.3,48.9 387.8,49.1 389.1,49.5 390.3,50.2 391.3,51.2 391.8,52.5 392.0,53.7 391.8,55.0 391.2,56.5 390.2,58.0 388.8,59.4 387.6,60.4 386.1,61.3 384.6,62.0 382.8,62.6 380.1,63.2 375.3,63.4 373.3,63.9 372.3,64.4 371.3,65.1 370.6,65.8 370.1,66.7 369.7,68.0 369.6,69.5 370.2,77.7 370.3,83.5 370.1,87.7 369.7,92.2 368.9,96.7 368.0,100.2 367.4,101.5 366.8,102.5 366.3,103.1 365.6,103.5Z M365.8,101.8 365.1,101.8 364.3,101.4 363.6,100.4 362.8,98.7 362.1,96.5 361.6,94.0 360.9,88.0 360.7,82.7 360.8,77.5 361.2,73.5 362.0,67.5 362.1,65.5 362.1,63.7 361.7,60.0 361.7,58.2 361.9,56.5 362.5,54.7 363.3,53.2 364.2,52.2 365.3,51.5 366.6,51.1 367.8,51.0 369.1,51.1 370.3,51.5 373.3,52.8 374.8,53.0 376.3,52.7 380.3,50.7 383.1,49.8 384.6,49.6 386.1,49.6 387.3,49.8 388.6,50.2 389.6,50.8 390.4,51.7 390.9,52.7 391.0,54.0 390.8,55.2 390.2,56.7 389.3,58.0 388.0,59.2 386.8,60.1 385.6,60.9 384.1,61.5 382.6,62.0 379.8,62.5 375.3,62.6 373.6,63.0 372.3,63.6 371.0,64.5 370.1,65.4 369.6,66.3 369.2,67.5 369.1,69.0 369.7,76.2 369.9,80.5 369.8,85.5 369.5,90.5 368.8,94.7 368.0,98.2 367.0,100.5 366.3,101.4 365.8,101.8Z M365.6,100.0 364.8,99.9 364.1,99.2 363.3,98.0 362.8,96.5 362.3,94.5 361.8,92.0 361.2,86.2 361.1,81.2 361.3,76.5 361.7,73.0 362.6,67.5 362.7,65.5 362.7,63.7 362.3,60.0 362.3,58.2 362.5,56.5 363.0,55.0 363.7,53.7 364.6,52.8 365.6,52.1 366.8,51.7 368.1,51.7 369.3,51.9 370.6,52.4 373.3,53.7 374.1,53.9 374.8,54.0 376.1,53.7 380.1,51.6 381.3,51.1 382.8,50.6 384.3,50.4 385.6,50.4 386.8,50.6 387.8,50.9 388.8,51.5 389.6,52.4 389.9,53.5 390.0,54.5 389.7,55.5 389.2,56.7 388.2,58.0 387.1,59.0 384.8,60.5 383.6,61.0 382.1,61.4 379.6,61.7 375.6,61.6 373.8,62.0 372.1,62.8 370.6,63.9 369.6,64.9 368.9,66.0 368.6,67.2 368.5,68.5 369.2,75.5 369.4,79.5 369.4,84.2 369.2,89.0 368.6,93.2 367.7,96.7 366.7,99.0 366.1,99.8 365.6,100.0Z M365.6,98.0 364.8,97.9 364.3,97.5 363.6,96.2 363.1,94.8 362.6,92.8 362.1,90.5 361.7,85.2 361.6,80.5 361.9,75.7 362.4,72.2 363.5,66.0 363.5,64.2 363.0,60.5 362.9,58.7 363.0,57.0 363.6,55.3 364.2,54.2 365.1,53.3 366.1,52.8 367.1,52.5 368.3,52.5 369.6,52.8 371.0,53.5 373.6,55.0 374.8,55.3 376.1,55.0 379.7,52.7 382.1,51.7 383.3,51.4 384.6,51.3 385.8,51.4 386.9,51.7 387.7,52.2 388.4,53.0 388.7,53.7 388.7,54.7 388.5,55.7 388.0,56.7 387.2,57.7 386.1,58.7 385.0,59.5 383.8,60.0 382.6,60.4 381.3,60.7 379.1,60.7 375.8,60.3 375.1,60.3 374.3,60.5 372.8,61.3 370.2,63.2 368.8,64.5 368.2,65.5 367.8,66.7 367.7,68.0 368.6,74.5 368.9,78.2 369.0,82.7 368.8,87.2 368.3,91.4 367.6,94.8 367.1,96.2 366.6,97.1 366.1,97.7 365.6,98.0Z M382.1,59.5 380.8,59.6 379.8,59.6 378.8,59.3 377.9,59.0 377.2,58.5 376.8,57.7 376.8,57.2 377.1,56.5 377.9,55.5 379.0,54.5 380.3,53.5 381.6,52.9 382.8,52.6 384.1,52.4 385.3,52.6 386.2,53.0 387.0,53.7 387.2,54.5 387.2,55.5 386.7,56.5 385.9,57.5 384.8,58.3 383.6,59.0 382.1,59.5Z M365.6,95.7 365.1,95.7 364.8,95.6 364.1,94.6 363.4,93.0 362.9,91.0 362.5,88.2 362.2,85.2 362.1,82.0 362.2,78.7 362.5,75.2 363.1,72.2 363.8,69.5 365.0,66.2 364.9,65.0 364.1,62.0 363.7,60.2 363.6,58.5 363.8,57.0 364.4,55.5 365.4,54.2 366.6,53.5 367.3,53.4 368.1,53.4 368.8,53.5 369.8,53.8 371.5,55.0 373.1,56.7 373.5,57.5 373.6,58.0 373.3,59.0 372.5,60.0 371.2,61.2 367.6,64.2 366.7,65.2 366.3,66.2 366.3,67.5 367.5,72.0 368.1,75.2 368.4,79.2 368.5,83.5 368.2,88.0 367.6,91.7 367.1,93.5 366.6,94.6 366.1,95.4 365.6,95.7Z M382.6,57.7 381.3,57.8 380.7,57.7 380.3,57.5 380.0,57.2 379.9,56.7 380.1,56.0 380.8,55.2 382.1,54.4 383.3,54.2 384.3,54.4 384.6,54.7 384.9,55.2 384.9,55.7 384.6,56.2 383.8,57.1 382.6,57.7Z M367.3,62.5 366.3,62.6 365.8,62.3 365.3,61.7 364.9,61.0 364.6,60.0 364.5,59.0 364.5,58.0 364.9,56.5 365.3,55.8 365.8,55.2 366.8,54.6 368.1,54.5 369.3,54.9 370.6,55.8 371.3,57.0 371.5,57.5 371.5,58.2 371.2,59.2 370.2,60.5 368.8,61.6 367.3,62.5Z M365.3,93.0 364.8,92.8 364.3,92.1 363.5,90.0 363.0,86.2 362.8,82.0 363.0,77.7 363.6,74.0 364.3,71.8 364.8,71.1 365.3,70.8 365.8,71.0 366.3,71.8 367.1,74.0 367.6,77.7 367.8,82.0 367.6,86.2 367.1,90.0 366.3,92.1 365.8,92.8 365.3,93.0Z M367.6,60.2 366.8,60.1 366.3,59.7 366.0,59.0 366.0,58.2 366.1,57.5 366.6,56.7 367.1,56.4 367.8,56.2 368.3,56.3 368.9,56.7 369.3,57.2 369.5,58.0 369.3,58.7 368.8,59.5 368.3,59.9 367.6,60.2Z M365.3,89.2 364.9,89.0 364.6,88.4 364.1,87.0 363.8,84.7 363.6,82.0 363.8,79.2 364.1,77.0 364.6,75.5 365.1,74.9 365.3,74.8 365.6,74.8 366.0,75.5 366.5,77.0 366.8,79.2 367.0,82.0 366.8,84.7 366.5,87.0 366.1,88.4 365.7,89.0 365.3,89.2Z" fill="none" stroke="#111" stroke-width="0.5" clip-path="url(#c2)"/>
<path d="M349.3,107.6 350.6,105.7 352.2,103.7 353.8,102.2 355.6,100.8 357.1,99.8 358.8,99.1 360.6,98.6 362.1,98.6 363.6,98.8 364.8,99.3 366.1,100.3 367.1,101.4 367.9,103.0 368.4,104.5 368.8,106.2 368.9,108.5 368.8,110.7 368.5,113.0 367.9,115.2 367.1,117.5 366.2,119.7 365.0,122.0 363.7,124.0 362.1,126.0 360.6,127.5 358.8,129.0 357.1,130.1 355.6,130.8 353.8,131.3 352.3,131.4 350.8,131.3 349.3,130.7 M349.3,109.7 350.3,108.0 351.6,106.2 352.8,104.7 354.3,103.3 355.6,102.3 357.1,101.4 358.6,100.7 360.1,100.3 361.6,100.2 362.8,100.4 364.1,100.9 365.1,101.7 365.8,102.5 366.6,103.7 367.2,105.2 367.5,106.7 367.7,108.7 367.6,111.0 367.2,113.5 366.7,115.7 365.7,118.2 364.6,120.5 363.4,122.5 361.9,124.5 360.3,126.2 358.6,127.6 357.1,128.6 355.3,129.4 353.6,129.8 352.1,129.8 350.6,129.4 349.3,128.6 M349.3,112.4 350.9,109.2 351.9,107.7 353.2,106.2 354.3,105.0 355.6,104.0 356.8,103.2 358.1,102.6 359.1,102.3 360.3,102.1 361.6,102.1 362.6,102.4 363.6,102.9 364.3,103.6 365.1,104.5 365.6,105.7 366.2,107.5 366.4,109.5 366.3,111.7 365.9,114.0 365.2,116.5 364.2,118.7 363.0,121.0 361.6,123.0 360.1,124.6 358.3,126.1 356.6,127.1 354.8,127.8 353.3,128.0 351.8,127.7 350.6,127.1 349.3,126.0 M349.3,117.5 350.0,114.5 350.6,112.7 351.4,111.2 353.2,108.5 354.3,107.2 355.3,106.2 356.3,105.5 357.6,104.8 358.8,104.4 359.8,104.2 360.8,104.3 361.8,104.6 362.6,105.0 363.3,105.7 364.2,107.2 364.7,109.2 364.8,111.5 364.5,113.7 363.9,116.0 362.8,118.5 361.6,120.6 360.1,122.5 358.3,124.1 356.6,125.1 354.8,125.7 353.3,125.7 352.6,125.6 351.8,125.2 350.6,124.2 349.8,122.7 349.3,120.8 M355.6,123.0 354.3,123.0 353.3,122.7 352.3,122.0 351.7,121.0 351.3,119.7 351.2,118.2 351.3,116.5 351.7,114.7 352.4,113.0 353.3,111.3 354.3,109.9 355.6,108.6 356.8,107.7 358.1,107.1 359.3,106.9 360.3,107.1 361.1,107.5 361.8,108.2 362.3,109.0 362.6,110.0 362.8,111.2 362.8,112.5 362.7,113.7 362.3,115.2 361.8,116.7 361.2,118.0 359.6,120.3 358.6,121.3 357.6,122.1 356.6,122.6 355.6,123.0Z M356.8,118.5 356.1,118.7 355.6,118.6 354.8,118.1 354.6,117.6 354.4,117.0 354.5,115.5 355.1,113.8 356.1,112.4 356.6,111.9 357.3,111.5 358.3,111.4 359.1,111.7 359.5,112.5 359.7,113.5 359.6,114.5 359.2,115.7 358.6,116.9 357.8,117.8 356.8,118.5Z" fill="none" stroke="#222" stroke-width="0.5" clip-path="url(#c2)"/>
<path d="M245.8,88.0h0.9M245.9,92.8h0.9M245.6,94.4h0.9M245.9,97.6h0.9M245.6,99.2h0.9M245.6,100.8h0.9M245.2,102.4h0.9M245.4,104.0h0.9M245.8,108.8h0.9M245.7,110.4h0.9M245.2,112.0h0.9M245.4,115.2h0.9M246.0,120.0h0.9M245.7,121.6h0.9M246.0,123.2h0.9M246.0,124.8h0.9M245.5,128.0h0.9M245.3,129.6h0.9" stroke="#222" stroke-width="0.9" fill="none"/>
<path d="M244.5,34.2 H342.6" stroke="#b0b0b0" stroke-width="1.2" fill="none"/>
<path d="M342.6,34.2 V132.3" stroke="#999" stroke-width="1" fill="none"/>
<path d="M244.5,33.7 V132.3 H342.6" stroke="#6a6a6a" stroke-width="1" fill="none"/>
<path d="M244.5,132.3h-2.2M244.5,124.9h-1.2M244.5,120.6h-1.2M244.5,117.5h-1.2M244.5,115.2h-1.2M244.5,113.2h-1.2M244.5,111.6h-1.2M244.5,110.2h-1.2M244.5,108.9h-1.2M244.5,107.8h-2.2M244.5,100.4h-1.2M244.5,96.1h-1.2M244.5,93.0h-1.2M244.5,90.6h-1.2M244.5,88.7h-1.2M244.5,87.0h-1.2M244.5,85.6h-1.2M244.5,84.4h-1.2M244.5,83.2h-2.2M244.5,75.9h-1.2M244.5,71.5h-1.2M244.5,68.5h-1.2M244.5,66.1h-1.2M244.5,64.2h-1.2M244.5,62.5h-1.2M244.5,61.1h-1.2M244.5,59.8h-1.2M244.5,58.7h-2.2M244.5,51.3h-1.2M244.5,47.0h-1.2M244.5,44.0h-1.2M244.5,41.6h-1.2M244.5,39.6h-1.2M244.5,38.0h-1.2M244.5,36.6h-1.2M244.5,35.3h-1.2M244.5,34.2h-2.2M244.5,132.3v2.2M251.9,132.3v1.2M256.2,132.3v1.2M259.3,132.3v1.2M261.6,132.3v1.2M263.6,132.3v1.2M265.2,132.3v1.2M266.6,132.3v1.2M267.9,132.3v1.2M269.0,132.3v2.2M276.4,132.3v1.2M280.7,132.3v1.2M283.8,132.3v1.2M286.2,132.3v1.2M288.1,132.3v1.2M289.8,132.3v1.2M291.2,132.3v1.2M292.4,132.3v1.2M293.6,132.3v2.2M300.9,132.3v1.2M305.3,132.3v1.2M308.3,132.3v1.2M310.7,132.3v1.2M312.6,132.3v1.2M314.3,132.3v1.2M315.7,132.3v1.2M317.0,132.3v1.2M318.1,132.3v2.2M325.5,132.3v1.2M329.8,132.3v1.2M332.8,132.3v1.2M335.2,132.3v1.2M337.2,132.3v1.2M338.8,132.3v1.2M340.2,132.3v1.2M341.5,132.3v1.2M342.6,132.3v2.2" stroke="#333" stroke-width="0.6" fill="none"/>
<path d="M349.3,34.2 H447.3" stroke="#b0b0b0" stroke-width="1.2" fill="none"/>
<path d="M447.3,34.2 V132.3" stroke="#999" stroke-width="1" fill="none"/>
<path d="M349.3,33.7 V132.3 H447.3" stroke="#6a6a6a" stroke-width="1" fill="none"/>
<path d="M349.3,132.3h-2.2M349.3,124.9h-1.2M349.3,120.6h-1.2M349.3,117.5h-1.2M349.3,115.2h-1.2M349.3,113.2h-1.2M349.3,111.6h-1.2M349.3,110.2h-1.2M349.3,108.9h-1.2M349.3,107.8h-2.2M349.3,100.4h-1.2M349.3,96.1h-1.2M349.3,93.0h-1.2M349.3,90.6h-1.2M349.3,88.7h-1.2M349.3,87.0h-1.2M349.3,85.6h-1.2M349.3,84.4h-1.2M349.3,83.2h-2.2M349.3,75.9h-1.2M349.3,71.5h-1.2M349.3,68.5h-1.2M349.3,66.1h-1.2M349.3,64.2h-1.2M349.3,62.5h-1.2M349.3,61.1h-1.2M349.3,59.8h-1.2M349.3,58.7h-2.2M349.3,51.3h-1.2M349.3,47.0h-1.2M349.3,44.0h-1.2M349.3,41.6h-1.2M349.3,39.6h-1.2M349.3,38.0h-1.2M349.3,36.6h-1.2M349.3,35.3h-1.2M349.3,34.2h-2.2M349.3,132.3v2.2M356.7,132.3v1.2M361.0,132.3v1.2M364.1,132.3v1.2M366.4,132.3v1.2M368.4,132.3v1.2M370.0,132.3v1.2M371.4,132.3v1.2M372.7,132.3v1.2M373.8,132.3v2.2M381.2,132.3v1.2M385.5,132.3v1.2M388.6,132.3v1.2M390.9,132.3v1.2M392.9,132.3v1.2M394.5,132.3v1.2M395.9,132.3v1.2M397.2,132.3v1.2M398.3,132.3v2.2M405.7,132.3v1.2M410.0,132.3v1.2M413.1,132.3v1.2M415.4,132.3v1.2M417.4,132.3v1.2M419.0,132.3v1.2M420.4,132.3v1.2M421.7,132.3v1.2M422.8,132.3v2.2M430.2,132.3v1.2M434.5,132.3v1.2M437.6,132.3v1.2M439.9,132.3v1.2M441.9,132.3v1.2M443.5,132.3v1.2M444.9,132.3v1.2M446.2,132.3v1.2M447.3,132.3v2.2" stroke="#333" stroke-width="0.6" fill="none"/>
<line x1="269.5" y1="34.2" x2="269.5" y2="132.3" stroke="#7668BE" stroke-width="0.9" />
<line x1="244.5" y1="78.5" x2="342.6" y2="78.5" stroke="#7668BE" stroke-width="0.9" />
<line x1="373.5" y1="34.2" x2="373.5" y2="132.3" stroke="#7668BE" stroke-width="0.9" />
<line x1="349.3" y1="78.5" x2="447.3" y2="78.5" stroke="#7668BE" stroke-width="0.9" />
<text x="247.8" y="44.2" font-size="8.3" text-anchor="start" fill="#222" >29</text>
<text x="339.8" y="44.2" font-size="8.3" text-anchor="end" fill="#222" >8</text>
<text x="247.8" y="129.5" font-size="8.3" text-anchor="start" fill="#222" >63</text>
<text x="339.8" y="129.5" font-size="8.3" text-anchor="end" fill="#222" >1</text>
<text x="352.2" y="44.0" font-size="8.3" text-anchor="start" fill="#222" >49</text>
<text x="444.5" y="44.0" font-size="8.3" text-anchor="end" fill="#222" >24</text>
<text x="352.2" y="129.7" font-size="8.3" text-anchor="start" fill="#222" >26</text>
<text x="444.5" y="129.7" font-size="8.3" text-anchor="end" fill="#222" >1</text>
<text x="247.5" y="59.0" font-size="8.8" text-anchor="start" fill="#222" >G<tspan font-size="5.5" dy="1.8">1</tspan></text>
<text x="296.8" y="58.6" font-size="8.4" text-anchor="start" fill="#222" >S/G<tspan font-size="5.5" dy="1.8">2</tspan><tspan dy="-1.8">/M</tspan></text>
<text x="250.8" y="107.6" font-size="8.8" text-anchor="start" fill="#222" >G<tspan font-size="5.5" dy="1.8">0</tspan></text>
<text x="218.3" y="171" font-size="13.4" font-weight="bold" fill="#000">D</text>
<line x1="263.5" y1="173.8" x2="263.5" y2="301.4" stroke="#1a1a1a" stroke-width="1" />
<line x1="263.8" y1="300.5" x2="388.7" y2="300.5" stroke="#1a1a1a" stroke-width="1" />
<line x1="260.8" y1="300.5" x2="263.8" y2="300.5" stroke="#1a1a1a" stroke-width="1" />
<text x="257.5" y="303.7" font-size="8.2" text-anchor="end" fill="#222" >0</text>
<line x1="260.8" y1="275.5" x2="263.8" y2="275.5" stroke="#1a1a1a" stroke-width="1" />
<text x="257.5" y="278.56" font-size="8.2" text-anchor="end" fill="#222" >20</text>
<line x1="260.8" y1="250.5" x2="263.8" y2="250.5" stroke="#1a1a1a" stroke-width="1" />
<text x="257.5" y="253.42" font-size="8.2" text-anchor="end" fill="#222" >40</text>
<line x1="260.8" y1="225.5" x2="263.8" y2="225.5" stroke="#1a1a1a" stroke-width="1" />
<text x="257.5" y="228.28" font-size="8.2" text-anchor="end" fill="#222" >60</text>
<line x1="260.8" y1="200.5" x2="263.8" y2="200.5" stroke="#1a1a1a" stroke-width="1" />
<text x="257.5" y="203.14" font-size="8.2" text-anchor="end" fill="#222" >80</text>
<line x1="260.8" y1="175.5" x2="263.8" y2="175.5" stroke="#1a1a1a" stroke-width="1" />
<text x="257.5" y="178.0" font-size="8.2" text-anchor="end" fill="#222" >100</text>
<rect x="269.3" y="228.2" width="10.899999999999977" height="72.69999999999999" fill="#A1002B" />
<line x1="274.5" y1="208.8" x2="274.5" y2="245.6" stroke="#111" stroke-width="0.9" />
<line x1="271.75" y1="208.5" x2="277.75" y2="208.5" stroke="#111" stroke-width="0.9" />
<line x1="271.75" y1="245.5" x2="277.75" y2="245.5" stroke="#111" stroke-width="0.9" />
<circle cx="274.8" cy="197.5" r="2.1" fill="#000"/>
<circle cx="274.8" cy="223.7" r="2.1" fill="#000"/>
<circle cx="274.8" cy="261.3" r="2.1" fill="#000"/>
<rect x="285.6" y="270.0" width="10.699999999999989" height="30.899999999999977" fill="#2E4B7E" />
<line x1="290.5" y1="258.7" x2="290.5" y2="278.3" stroke="#111" stroke-width="0.9" />
<line x1="287.95000000000005" y1="258.5" x2="293.95000000000005" y2="258.5" stroke="#111" stroke-width="0.9" />
<line x1="287.95000000000005" y1="278.5" x2="293.95000000000005" y2="278.5" stroke="#111" stroke-width="0.9" />
<rect x="289.09999999999997" y="249.8" width="4.2" height="4.2" fill="#000"/>
<rect x="289.09999999999997" y="265.9" width="4.2" height="4.2" fill="#000"/>
<rect x="289.09999999999997" y="284.0" width="4.2" height="4.2" fill="#000"/>
<rect x="312.5" y="267.3" width="11.100000000000023" height="33.599999999999966" fill="#A1002B" />
<line x1="318.5" y1="249.8" x2="318.5" y2="282.0" stroke="#111" stroke-width="0.9" />
<line x1="315.05" y1="249.5" x2="321.05" y2="249.5" stroke="#111" stroke-width="0.9" />
<line x1="315.05" y1="282.5" x2="321.05" y2="282.5" stroke="#111" stroke-width="0.9" />
<circle cx="317.9" cy="239.3" r="2.1" fill="#000"/>
<circle cx="317.9" cy="264" r="2.1" fill="#000"/>
<circle cx="317.9" cy="294.2" r="2.1" fill="#000"/>
<rect x="329.2" y="246.5" width="10.800000000000011" height="54.39999999999998" fill="#2E4B7E" />
<line x1="334.5" y1="235.8" x2="334.5" y2="257.3" stroke="#111" stroke-width="0.9" />
<line x1="331.6" y1="235.5" x2="337.6" y2="235.5" stroke="#111" stroke-width="0.9" />
<line x1="331.6" y1="257.5" x2="337.6" y2="257.5" stroke="#111" stroke-width="0.9" />
<rect x="332.5" y="230.4" width="4.2" height="4.2" fill="#000"/>
<rect x="332.5" y="237.70000000000002" width="4.2" height="4.2" fill="#000"/>
<rect x="332.5" y="262.5" width="4.2" height="4.2" fill="#000"/>
<rect x="356.1" y="288.8" width="10.799999999999955" height="12.099999999999966" fill="#A1002B" />
<line x1="361.5" y1="283.4" x2="361.5" y2="294.2" stroke="#111" stroke-width="0.9" />
<line x1="358.5" y1="283.5" x2="364.5" y2="283.5" stroke="#111" stroke-width="0.9" />
<line x1="358.5" y1="294.5" x2="364.5" y2="294.5" stroke="#111" stroke-width="0.9" />
<circle cx="361.5" cy="278.0" r="2.1" fill="#000"/>
<circle cx="358.8" cy="295.0" r="2.1" fill="#000"/>
<circle cx="365.0" cy="291.0" r="2.1" fill="#000"/>
<rect x="372.5" y="268.9" width="11.399999999999977" height="32.0" fill="#2E4B7E" />
<line x1="378.5" y1="263.2" x2="378.5" y2="274.6" stroke="#111" stroke-width="0.9" />
<line x1="375.2" y1="263.5" x2="381.2" y2="263.5" stroke="#111" stroke-width="0.9" />
<line x1="375.2" y1="274.5" x2="381.2" y2="274.5" stroke="#111" stroke-width="0.9" />
<rect x="375.59999999999997" y="257.09999999999997" width="4.2" height="4.2" fill="#000"/>
<rect x="372.5" y="268.7" width="4.2" height="4.2" fill="#000"/>
<rect x="378.9" y="268.7" width="4.2" height="4.2" fill="#000"/>
<line x1="282.5" y1="300.9" x2="282.5" y2="304" stroke="#1a1a1a" stroke-width="1" />
<line x1="326.5" y1="300.9" x2="326.5" y2="304" stroke="#1a1a1a" stroke-width="1" />
<line x1="370.5" y1="300.9" x2="370.5" y2="304" stroke="#1a1a1a" stroke-width="1" />
<text x="282.9" y="315.7" font-size="8.2" text-anchor="middle" fill="#222" >G0</text>
<text x="326.3" y="315.7" font-size="8.2" text-anchor="middle" fill="#222" >G1</text>
<text x="370.4" y="315.7" font-size="8.2" text-anchor="middle" fill="#222" >S/G2/M</text>
<text x="273.0" y="182.2" font-size="8.2" text-anchor="start" fill="#222" >p=0.1</text>
<line x1="273.8" y1="187.5" x2="293.8" y2="187.5" stroke="#333" stroke-width="0.9" />
<text x="316.2" y="215.8" font-size="8.2" text-anchor="start" fill="#222" >p=0.3</text>
<line x1="316.0" y1="221.5" x2="336.5" y2="221.5" stroke="#333" stroke-width="0.9" />
<text x="356.0" y="247.9" font-size="8.2" text-anchor="start" fill="#222" >p=0.03</text>
<line x1="359.6" y1="253.5" x2="379.8" y2="253.5" stroke="#333" stroke-width="0.9" />
<circle cx="394.3" cy="176.5" r="2.4" fill="#000"/>
<rect x="391.95" y="186.45000000000002" width="4.7" height="4.7" fill="#000"/>
<text x="400.3" y="178.9" font-size="7.85" text-anchor="start" fill="#222" >-Dox parental</text>
<text x="400.3" y="191.2" font-size="7.85" text-anchor="start" fill="#222" >-Dox <tspan font-style="italic">TP53</tspan> KO</text>
<text transform="translate(235.9,236.5) rotate(-90)" x="0" y="0" font-size="10.3" text-anchor="middle" textLength="32.80000000000001" lengthAdjust="spacingAndGlyphs" fill="#222" font-weight="normal">Proportion</text>
<text x="7.8" y="338.6" font-size="13.4" font-weight="bold" fill="#000">E</text>
<line x1="63.5" y1="373.5" x2="63.5" y2="470.7" stroke="#1a1a1a" stroke-width="1" />
<line x1="63.5" y1="470.5" x2="206.5" y2="470.5" stroke="#1a1a1a" stroke-width="1" />
<line x1="60.5" y1="470.5" x2="63.5" y2="470.5" stroke="#1a1a1a" stroke-width="1" />
<text x="57.5" y="473.0" font-size="8.2" text-anchor="end" fill="#222" >0</text>
<line x1="60.5" y1="446.5" x2="63.5" y2="446.5" stroke="#1a1a1a" stroke-width="1" />
<text x="57.5" y="449.3" font-size="8.2" text-anchor="end" fill="#222" >10</text>
<line x1="60.5" y1="422.5" x2="63.5" y2="422.5" stroke="#1a1a1a" stroke-width="1" />
<text x="57.5" y="425.59999999999997" font-size="8.2" text-anchor="end" fill="#222" >20</text>
<line x1="60.5" y1="399.5" x2="63.5" y2="399.5" stroke="#1a1a1a" stroke-width="1" />
<text x="57.5" y="401.9" font-size="8.2" text-anchor="end" fill="#222" >30</text>
<line x1="60.5" y1="375.5" x2="63.5" y2="375.5" stroke="#1a1a1a" stroke-width="1" />
<text x="57.5" y="378.2" font-size="8.2" text-anchor="end" fill="#222" >40</text>
<rect x="75.3" y="439.7" width="21.200000000000003" height="30.5" fill="#A1002B" />
<rect x="75.3" y="425.7" width="21.200000000000003" height="14.0" fill="#2E4B7E" />
<rect x="75.3" y="424.6" width="21.200000000000003" height="1.099999999999966" fill="#6CA643" />
<rect x="75.3" y="418.2" width="21.200000000000003" height="6.400000000000034" fill="#522662" />
<rect x="108.3" y="453.7" width="21.500000000000014" height="16.5" fill="#A1002B" />
<rect x="108.3" y="435.1" width="21.500000000000014" height="18.599999999999966" fill="#2E4B7E" />
<rect x="108.3" y="428.0" width="21.500000000000014" height="7.100000000000023" fill="#6CA643" />
<rect x="108.3" y="391.2" width="21.500000000000014" height="36.80000000000001" fill="#522662" />
<rect x="108.3" y="388.6" width="21.500000000000014" height="2.599999999999966" fill="#D88818" />
<rect x="141.3" y="469.0" width="21.0" height="1.1999999999999886" fill="#A1002B" />
<rect x="141.3" y="466.1" width="21.0" height="2.8999999999999773" fill="#2E4B7E" />
<rect x="141.3" y="465.3" width="21.0" height="0.8000000000000114" fill="#6CA643" />
<rect x="174.3" y="457.3" width="20.69999999999999" height="12.899999999999977" fill="#A1002B" />
<rect x="174.3" y="444.2" width="20.69999999999999" height="13.100000000000023" fill="#2E4B7E" />
<rect x="174.3" y="433.0" width="20.69999999999999" height="11.199999999999989" fill="#6CA643" />
<rect x="174.3" y="412.7" width="20.69999999999999" height="20.30000000000001" fill="#522662" />
<rect x="174.3" y="412.0" width="20.69999999999999" height="0.6999999999999886" fill="#D88818" />
<line x1="85.5" y1="413.4" x2="85.5" y2="418.2" stroke="#111" stroke-width="1.0" />
<line x1="80.65" y1="413.5" x2="91.15" y2="413.5" stroke="#111" stroke-width="1.0" />
<line x1="85.5" y1="423.0" x2="85.5" y2="425.0" stroke="#111" stroke-width="1.0" />
<line x1="80.65" y1="423.5" x2="91.15" y2="423.5" stroke="#111" stroke-width="1.0" />
<line x1="85.5" y1="430.3" x2="85.5" y2="439.7" stroke="#111" stroke-width="1.0" />
<line x1="80.65" y1="430.5" x2="91.15" y2="430.5" stroke="#111" stroke-width="1.0" />
<line x1="119.5" y1="383.2" x2="119.5" y2="388.6" stroke="#111" stroke-width="1.0" />
<line x1="113.75" y1="383.5" x2="124.25" y2="383.5" stroke="#111" stroke-width="1.0" />
<line x1="113.75" y1="388.5" x2="124.25" y2="388.5" stroke="#111" stroke-width="1.0" />
<line x1="119.5" y1="424.7" x2="119.5" y2="434.2" stroke="#111" stroke-width="1.0" />
<line x1="113.75" y1="424.5" x2="124.25" y2="424.5" stroke="#111" stroke-width="1.0" />
<line x1="119.5" y1="427.4" x2="119.5" y2="428.0" stroke="#111" stroke-width="1.0" />
<line x1="113.75" y1="427.5" x2="124.25" y2="427.5" stroke="#111" stroke-width="1.0" />
<line x1="119.5" y1="448.7" x2="119.5" y2="453.7" stroke="#111" stroke-width="1.0" />
<line x1="113.75" y1="448.5" x2="124.25" y2="448.5" stroke="#111" stroke-width="1.0" />
<line x1="151.5" y1="464.4" x2="151.5" y2="466.0" stroke="#111" stroke-width="1.0" />
<line x1="147.15" y1="464.5" x2="156.65" y2="464.5" stroke="#111" stroke-width="1.0" />
<line x1="151.5" y1="467.8" x2="151.5" y2="469.0" stroke="#111" stroke-width="1.0" />
<line x1="147.15" y1="467.5" x2="156.65" y2="467.5" stroke="#111" stroke-width="1.0" />
<line x1="184.5" y1="403.8" x2="184.5" y2="412.0" stroke="#111" stroke-width="1.0" />
<line x1="179.6" y1="403.5" x2="189.6" y2="403.5" stroke="#111" stroke-width="1.0" />
<line x1="179.6" y1="412.5" x2="189.6" y2="412.5" stroke="#111" stroke-width="1.0" />
<line x1="184.5" y1="425.8" x2="184.5" y2="433.0" stroke="#111" stroke-width="1.0" />
<line x1="179.6" y1="425.5" x2="189.6" y2="425.5" stroke="#111" stroke-width="1.0" />
<line x1="184.5" y1="436.8" x2="184.5" y2="444.2" stroke="#111" stroke-width="1.0" />
<line x1="179.6" y1="436.5" x2="189.6" y2="436.5" stroke="#111" stroke-width="1.0" />
<line x1="184.5" y1="451.5" x2="184.5" y2="457.3" stroke="#111" stroke-width="1.0" />
<line x1="179.6" y1="451.5" x2="189.6" y2="451.5" stroke="#111" stroke-width="1.0" />
<line x1="85.5" y1="470.2" x2="85.5" y2="473.5" stroke="#1a1a1a" stroke-width="1" />
<line x1="119.5" y1="470.2" x2="119.5" y2="473.5" stroke="#1a1a1a" stroke-width="1" />
<line x1="151.5" y1="470.2" x2="151.5" y2="473.5" stroke="#1a1a1a" stroke-width="1" />
<line x1="184.5" y1="470.2" x2="184.5" y2="473.5" stroke="#1a1a1a" stroke-width="1" />
<line x1="86.1" y1="349.5" x2="183.0" y2="349.5" stroke="#333" stroke-width="0.9" />
<text x="134.6" y="347.0" font-size="8.2" text-anchor="middle" fill="#222" >p=0.66</text>
<line x1="86.1" y1="365.5" x2="154.8" y2="365.5" stroke="#333" stroke-width="0.9" />
<text x="120.6" y="362.2" font-size="8.2" text-anchor="middle" fill="#222" >p=0.02</text>
<line x1="86.1" y1="379.5" x2="117.4" y2="379.5" stroke="#333" stroke-width="0.9" />
<text x="102.1" y="376.7" font-size="8.2" text-anchor="middle" fill="#222" >p=0.27</text>
<line x1="122.5" y1="379.5" x2="185.7" y2="379.5" stroke="#333" stroke-width="0.9" />
<text x="154.2" y="376.7" font-size="8.2" text-anchor="middle" fill="#222" >p=0.57</text>
<line x1="152.8" y1="396.5" x2="184.5" y2="396.5" stroke="#333" stroke-width="0.9" />
<text x="168.5" y="392.8" font-size="8.2" text-anchor="middle" fill="#222" >p=0.04</text>
<rect x="210.4" y="373.2" width="11.1" height="6.2" fill="#D88818" />
<text x="225.3" y="378.9" font-size="8" text-anchor="start" fill="#222" >CFU-GEMM</text>
<rect x="210.4" y="385.62" width="11.1" height="6.2" fill="#522662" />
<text x="225.3" y="391.32" font-size="8" text-anchor="start" fill="#222" >BFU-E</text>
<rect x="210.4" y="398.03999999999996" width="11.1" height="6.2" fill="#6CA643" />
<text x="225.3" y="403.73999999999995" font-size="8" text-anchor="start" fill="#222" >CFU-GM</text>
<rect x="210.4" y="410.46" width="11.1" height="6.2" fill="#2E4B7E" />
<text x="225.3" y="416.15999999999997" font-size="8" text-anchor="start" fill="#222" >CFU-M</text>
<rect x="210.4" y="422.88" width="11.1" height="6.2" fill="#A1002B" />
<text x="225.3" y="428.58" font-size="8" text-anchor="start" fill="#222" >CFU-G</text>
<text x="57.5" y="484.6" font-size="8.2" text-anchor="end" fill="#222" >Dox</text>
<text x="57.5" y="497.7" font-size="8.3" text-anchor="end" fill="#222" font-style="italic">TP53</text>
<path d="M83.5,482.3 h4.8" stroke="#333" stroke-width="0.85"/>
<path d="M85.9,479.8 v5" stroke="#333" stroke-width="0.85"/>
<text x="85.9" y="497.7" font-size="8.3" text-anchor="middle" fill="#222" >WT</text>
<path d="M116.6,482.3 h4.8" stroke="#333" stroke-width="0.85"/>
<path d="M119.0,479.8 v5" stroke="#333" stroke-width="0.85"/>
<text x="119.0" y="497.7" font-size="8.3" text-anchor="middle" fill="#222" >KO</text>
<path d="M149.5,482.3 h4.8" stroke="#333" stroke-width="0.85"/>
<text x="151.9" y="497.7" font-size="8.3" text-anchor="middle" fill="#222" >WT</text>
<path d="M182.2,482.3 h4.8" stroke="#333" stroke-width="0.85"/>
<text x="184.6" y="497.7" font-size="8.3" text-anchor="middle" fill="#222" >KO</text>
<text transform="translate(41.6,421.4) rotate(-90)" x="0" y="0" font-size="10.3" text-anchor="middle" textLength="25.80000000000001" lengthAdjust="spacingAndGlyphs" fill="#222" font-weight="normal">Colonies</text>
<text x="7.8" y="520.8" font-size="13.4" font-weight="bold" fill="#000">F</text>
<line x1="47.3" y1="734.2" x2="47.3" y2="537" stroke="#000" stroke-width="1.3" />
<path d="M47.3,530.8 L44.3,538.0 L50.3,538.0 Z" fill="#000"/>
<line x1="46.7" y1="734.0" x2="330" y2="734.0" stroke="#000" stroke-width="1.3" />
<path d="M336,734.0 L328.8,731.0 L328.8,737.0 Z" fill="#000"/>
<text transform="translate(40.6,545.0) rotate(-90)" x="0" y="0" font-size="10.2" text-anchor="middle" textLength="20" lengthAdjust="spacingAndGlyphs" fill="#111" font-weight="normal">CD49d</text>
<text x="304.2" y="749.2" font-size="10.2" textLength="22.400000000000034" lengthAdjust="spacingAndGlyphs" fill="#111" font-weight="normal" >Band 3</text>
<text transform="translate(25.6,578.5) rotate(-90)" x="0" y="0" font-size="10.4" text-anchor="middle" textLength="20.0" lengthAdjust="spacingAndGlyphs" fill="#222" font-weight="normal">-Dox</text>
<text transform="translate(25.9,685.05) rotate(-90)" x="0" y="0" font-size="10.4" text-anchor="middle" textLength="63.5" lengthAdjust="spacingAndGlyphs" fill="#222" font-weight="normal">-Dox <tspan font-style="italic">TP53</tspan> KO</text>
<text x="112.0" y="530.6" font-size="10" text-anchor="middle" fill="#222" >Day 10</text>
<text x="199.5" y="530.6" font-size="10" text-anchor="middle" fill="#222" >Day 12</text>
<text x="285.6" y="530.6" font-size="10" text-anchor="middle" fill="#222" >Day 14</text>
<text x="52.6" y="541.5" font-size="8.3" fill="#222">10<tspan font-size="5.6" dy="-3.6">4</tspan></text>
<text x="52.6" y="561.0" font-size="8.3" fill="#222">10<tspan font-size="5.6" dy="-3.6">3</tspan></text>
<text x="52.6" y="581.0" font-size="8.3" fill="#222">10<tspan font-size="5.6" dy="-3.6">2</tspan></text>
<text x="52.6" y="601.3" font-size="8.3" fill="#222">10<tspan font-size="5.6" dy="-3.6">1</tspan></text>
<text x="52.6" y="621.3" font-size="8.3" fill="#222">10<tspan font-size="5.6" dy="-3.6">0</tspan></text>
<text x="66.10000000000001" y="630.8" font-size="8.3" fill="#222">10<tspan font-size="5.6" dy="-3.6">0</tspan></text>
<text x="86.4" y="630.8" font-size="8.3" fill="#222">10<tspan font-size="5.6" dy="-3.6">1</tspan></text>
<text x="106.0" y="630.8" font-size="8.3" fill="#222">10<tspan font-size="5.6" dy="-3.6">2</tspan></text>
<text x="126.0" y="630.8" font-size="8.3" fill="#222">10<tspan font-size="5.6" dy="-3.6">3</tspan></text>
<text x="146.70000000000002" y="630.8" font-size="8.3" fill="#222">10<tspan font-size="5.6" dy="-3.6">4</tspan></text>
<clipPath id="f00"><rect x="71.7" y="536.6" width="80.8" height="80.89999999999998"/></clipPath>
<path d="M111.2,598.2h0.6M129.0,588.4h0.6M110.4,593.3h0.6M124.8,606.1h0.6M111.3,579.8h0.6M126.6,599.2h0.6M133.3,604.8h0.6M120.2,591.0h0.6M141.6,590.8h0.6M114.7,581.5h0.6M121.8,595.6h0.6M118.2,593.3h0.6M123.2,601.6h0.6M129.8,596.3h0.6M106.7,601.7h0.6M109.6,592.1h0.6M109.2,594.0h0.6M114.8,596.4h0.6M147.4,593.5h0.6M127.7,579.4h0.6M118.7,601.3h0.6M120.3,598.1h0.6M121.8,582.9h0.6M125.5,585.1h0.6M136.0,588.4h0.6M126.5,594.0h0.6M128.6,587.4h0.6M129.0,592.6h0.6M131.1,600.9h0.6M122.1,585.4h0.6M127.1,599.1h0.6M134.1,589.9h0.6M125.4,599.6h0.6M123.3,596.3h0.6M122.5,587.4h0.6M112.9,589.6h0.6M125.7,610.6h0.6M128.8,605.6h0.6M127.2,601.7h0.6M122.5,602.5h0.6M135.2,590.4h0.6M115.4,615.6h0.6M123.0,604.7h0.6M128.0,581.5h0.6M140.5,613.5h0.6" stroke="#999" stroke-width="0.6" fill="none"/>
<path d="M122.4,575.6 C122.9,574.4 123.9,574.4 124.8,574.6 C125.7,574.8 126.3,576.1 127.9,576.7 C129.5,577.3 132.8,577.6 134.2,578.4 C135.6,579.1 136.1,579.9 136.6,581.2 C137.1,582.5 136.6,584.2 136.9,586.0 C137.2,587.8 138.5,590.4 138.5,592.2 C138.5,594.1 138.0,595.5 136.9,597.1 C135.8,598.7 133.4,601.1 132.1,601.9 C130.8,602.7 130.2,602.6 129.3,601.9 C128.4,601.2 127.5,599.6 126.9,597.8 C126.3,596.0 126.7,592.8 125.9,590.9 C125.1,589.0 122.7,588.2 122.0,586.7 C121.3,585.2 121.6,583.8 121.7,581.9 C121.8,580.0 121.9,576.8 122.4,575.6Z" fill="none" stroke="#555" stroke-width="0.6"/>
<path d="M136.4,621.5 132.7,621.4 128.0,621.2 125.5,620.9 123.5,620.4 121.7,619.7 120.4,618.7 119.8,617.7 119.7,617.2 119.8,616.7 120.5,615.8 121.5,615.0 123.0,614.4 124.5,613.9 126.2,613.6 128.4,613.4 135.2,613.1 141.9,613.4 144.4,613.7 146.4,614.0 148.2,614.6 149.4,615.2 150.5,616.0 150.9,616.7 151.0,617.2 151.0,617.7 150.4,618.7 149.2,619.6 147.4,620.3 145.4,620.8 143.4,621.0 136.4,621.5Z M138.7,620.7 135.7,620.9 132.4,620.8 128.2,620.5 125.5,620.1 123.5,619.5 122.2,618.7 121.6,618.0 121.4,617.5 121.4,617.0 121.8,616.2 122.7,615.5 123.7,615.0 125.2,614.6 128.7,614.1 134.7,613.7 137.4,613.8 140.9,614.0 145.2,614.6 146.7,615.0 147.8,615.5 148.5,616.0 149.1,616.7 149.3,617.5 148.9,618.2 148.0,619.0 146.9,619.5 145.4,620.0 143.7,620.3 138.7,620.7Z M139.4,620.0 136.7,620.2 133.9,620.2 129.9,619.9 127.2,619.6 125.6,619.2 124.4,618.7 123.4,618.0 123.2,617.2 123.5,616.5 124.2,616.0 125.2,615.5 126.2,615.2 129.7,614.7 134.9,614.4 139.2,614.6 143.9,615.2 145.2,615.5 146.3,616.0 147.0,616.5 147.3,617.0 147.4,617.5 147.1,618.0 146.5,618.5 145.5,619.0 143.2,619.6 139.4,620.0Z M137.4,619.5 133.4,619.5 128.3,619.0 127.0,618.6 126.0,618.2 125.4,617.7 125.2,617.2 125.5,616.7 126.0,616.4 126.9,616.0 127.8,615.7 131.4,615.2 135.2,615.0 138.4,615.2 142.4,615.8 143.7,616.1 144.5,616.5 144.8,616.7 145.1,617.2 144.9,617.7 144.7,618.0 143.4,618.6 140.9,619.1 137.4,619.5Z M137.9,618.8 134.9,618.9 131.4,618.6 129.7,618.3 128.6,618.0 128.1,617.7 127.9,617.5 127.9,617.2 128.4,616.7 129.9,616.2 132.7,615.8 135.2,615.7 137.4,615.8 140.1,616.2 141.6,616.7 142.1,617.2 142.1,617.5 141.8,617.7 141.3,618.0 139.6,618.5 137.9,618.8Z M136.4,618.2 134.7,618.3 132.9,618.1 131.6,617.7 131.3,617.5 131.2,617.2 131.4,617.0 132.7,616.6 135.2,616.3 137.7,616.6 138.7,617.0 139.0,617.2 138.9,617.5 138.6,617.7 137.9,618.0 136.4,618.2Z" fill="none" stroke="#111" stroke-width="0.55" clip-path="url(#f00)"/>
<ellipse cx="135.5" cy="616.9" rx="4.5" ry="1.9" fill="#000" clip-path="url(#f00)"/>
<path d="M71.7,536.6 H152.5" stroke="#b0b0b0" stroke-width="1.2" fill="none"/>
<path d="M152.5,536.6 V617.5" stroke="#999" stroke-width="1" fill="none"/>
<path d="M71.7,536.1 V617.5 H152.5" stroke="#6a6a6a" stroke-width="1" fill="none"/>
<path d="M71.7,617.5h-2.2M71.7,611.4h-1.2M71.7,607.9h-1.2M71.7,605.3h-1.2M71.7,603.4h-1.2M71.7,601.8h-1.2M71.7,600.4h-1.2M71.7,599.2h-1.2M71.7,598.2h-1.2M71.7,597.3h-2.2M71.7,591.2h-1.2M71.7,587.6h-1.2M71.7,585.1h-1.2M71.7,583.1h-1.2M71.7,581.5h-1.2M71.7,580.2h-1.2M71.7,579.0h-1.2M71.7,578.0h-1.2M71.7,577.0h-2.2M71.7,571.0h-1.2M71.7,567.4h-1.2M71.7,564.9h-1.2M71.7,562.9h-1.2M71.7,561.3h-1.2M71.7,560.0h-1.2M71.7,558.8h-1.2M71.7,557.8h-1.2M71.7,556.8h-2.2M71.7,550.7h-1.2M71.7,547.2h-1.2M71.7,544.6h-1.2M71.7,542.7h-1.2M71.7,541.1h-1.2M71.7,539.7h-1.2M71.7,538.6h-1.2M71.7,537.5h-1.2M71.7,536.6h-2.2M71.7,617.5v2.2M77.8,617.5v1.2M81.3,617.5v1.2M83.9,617.5v1.2M85.8,617.5v1.2M87.4,617.5v1.2M88.8,617.5v1.2M89.9,617.5v1.2M91.0,617.5v1.2M91.9,617.5v2.2M98.0,617.5v1.2M101.5,617.5v1.2M104.1,617.5v1.2M106.0,617.5v1.2M107.6,617.5v1.2M109.0,617.5v1.2M110.1,617.5v1.2M111.2,617.5v1.2M112.1,617.5v2.2M118.2,617.5v1.2M121.7,617.5v1.2M124.3,617.5v1.2M126.2,617.5v1.2M127.8,617.5v1.2M129.2,617.5v1.2M130.3,617.5v1.2M131.4,617.5v1.2M132.3,617.5v2.2M138.4,617.5v1.2M141.9,617.5v1.2M144.5,617.5v1.2M146.4,617.5v1.2M148.0,617.5v1.2M149.4,617.5v1.2M150.5,617.5v1.2M151.6,617.5v1.2M152.5,617.5v2.2" stroke="#333" stroke-width="0.6" fill="none"/>
<clipPath id="f01"><rect x="158.2" y="536.6" width="82.30000000000001" height="81.0"/></clipPath>
<path d="M187.7,598.3h0.6M201.7,588.3h0.6M216.6,595.9h0.6M199.1,577.3h0.6M188.5,587.6h0.6M212.9,606.9h0.6M225.7,604.3h0.6M221.3,604.6h0.6M198.6,607.2h0.6M206.3,592.7h0.6M229.7,606.6h0.6M199.8,594.7h0.6M234.0,592.3h0.6M214.6,604.5h0.6M211.9,604.1h0.6M199.8,589.2h0.6M203.7,590.7h0.6M194.9,603.5h0.6M193.8,586.0h0.6M202.8,597.3h0.6M200.3,558.8h0.6M222.5,591.9h0.6M197.9,605.4h0.6M198.4,575.5h0.6M211.6,601.7h0.6M195.6,607.7h0.6M210.2,579.7h0.6" stroke="#999" stroke-width="0.6" fill="none"/>
<path d="M221.2,621.6 218.2,621.6 214.9,621.4 210.4,620.9 207.7,620.4 205.7,619.7 204.4,618.9 203.7,618.1 203.5,617.6 203.6,617.1 204.0,616.3 204.9,615.6 206.2,614.9 207.7,614.4 209.9,614.0 212.4,613.6 215.7,613.3 218.9,613.2 223.7,613.4 226.2,613.8 228.7,614.2 230.4,614.7 231.7,615.3 232.8,616.1 233.4,616.8 233.5,617.3 233.4,617.8 233.0,618.6 232.1,619.3 230.7,620.0 229.2,620.4 226.9,620.9 223.7,621.4 221.2,621.6Z M222.4,620.8 219.7,621.0 216.9,620.9 212.7,620.5 209.7,619.9 207.7,619.4 206.4,618.7 206.0,618.3 205.7,617.8 205.6,617.1 206.2,616.3 206.9,615.8 208.1,615.3 209.4,614.9 214.4,614.1 219.2,613.8 223.7,614.1 227.7,614.9 229.1,615.3 230.2,615.8 230.9,616.3 231.4,617.1 231.4,617.8 231.1,618.3 230.5,618.8 229.4,619.4 226.7,620.2 222.4,620.8Z M220.2,620.3 218.2,620.3 215.9,620.1 213.2,619.8 210.9,619.3 209.7,618.9 208.7,618.5 208.0,617.8 207.9,617.3 208.1,616.8 208.8,616.3 210.8,615.6 215.2,614.7 218.9,614.5 222.4,614.7 225.7,615.2 228.1,616.1 228.8,616.6 229.2,617.1 229.3,617.6 229.0,618.1 228.4,618.6 227.2,619.1 223.9,619.9 220.2,620.3Z M221.4,619.6 217.9,619.6 214.2,619.1 212.9,618.8 211.5,618.3 210.8,617.8 210.7,617.3 210.9,616.9 211.4,616.6 213.2,615.9 216.2,615.3 218.9,615.1 221.4,615.2 223.9,615.7 225.8,616.3 226.4,616.7 226.8,617.1 226.9,617.6 226.8,617.8 225.7,618.6 223.9,619.1 221.4,619.6Z M221.7,618.8 219.2,619.0 216.5,618.8 215.2,618.5 214.1,618.1 213.8,617.8 213.6,617.6 213.6,617.3 214.0,616.8 215.2,616.3 216.9,615.9 218.9,615.8 220.7,615.8 222.2,616.1 223.7,616.6 224.4,617.1 224.5,617.6 224.0,618.1 222.9,618.5 221.7,618.8Z M220.4,618.3 218.9,618.4 217.4,618.2 216.3,617.8 216.0,617.6 216.0,617.3 216.4,616.9 217.2,616.6 219.2,616.4 221.2,616.6 221.9,617.0 222.3,617.3 222.3,617.6 221.9,617.9 220.4,618.3Z" fill="none" stroke="#111" stroke-width="0.55" clip-path="url(#f01)"/>
<ellipse cx="219" cy="617.0" rx="6.0" ry="1.9" fill="#000" clip-path="url(#f01)"/>
<path d="M158.2,536.6 H240.5" stroke="#b0b0b0" stroke-width="1.2" fill="none"/>
<path d="M240.5,536.6 V617.6" stroke="#999" stroke-width="1" fill="none"/>
<path d="M158.2,536.1 V617.6 H240.5" stroke="#6a6a6a" stroke-width="1" fill="none"/>
<path d="M158.2,617.6h-2.2M158.2,611.5h-1.2M158.2,607.9h-1.2M158.2,605.4h-1.2M158.2,603.4h-1.2M158.2,601.8h-1.2M158.2,600.5h-1.2M158.2,599.3h-1.2M158.2,598.3h-1.2M158.2,597.4h-2.2M158.2,591.3h-1.2M158.2,587.7h-1.2M158.2,585.2h-1.2M158.2,583.2h-1.2M158.2,581.6h-1.2M158.2,580.2h-1.2M158.2,579.1h-1.2M158.2,578.0h-1.2M158.2,577.1h-2.2M158.2,571.0h-1.2M158.2,567.4h-1.2M158.2,564.9h-1.2M158.2,562.9h-1.2M158.2,561.3h-1.2M158.2,560.0h-1.2M158.2,558.8h-1.2M158.2,557.8h-1.2M158.2,556.9h-2.2M158.2,550.8h-1.2M158.2,547.2h-1.2M158.2,544.7h-1.2M158.2,542.7h-1.2M158.2,541.1h-1.2M158.2,539.7h-1.2M158.2,538.6h-1.2M158.2,537.5h-1.2M158.2,536.6h-2.2M158.2,617.6v2.2M164.4,617.6v1.2M168.0,617.6v1.2M170.6,617.6v1.2M172.6,617.6v1.2M174.2,617.6v1.2M175.6,617.6v1.2M176.8,617.6v1.2M177.8,617.6v1.2M178.8,617.6v2.2M185.0,617.6v1.2M188.6,617.6v1.2M191.2,617.6v1.2M193.2,617.6v1.2M194.8,617.6v1.2M196.2,617.6v1.2M197.4,617.6v1.2M198.4,617.6v1.2M199.3,617.6v2.2M205.5,617.6v1.2M209.2,617.6v1.2M211.7,617.6v1.2M213.7,617.6v1.2M215.4,617.6v1.2M216.7,617.6v1.2M217.9,617.6v1.2M219.0,617.6v1.2M219.9,617.6v2.2M226.1,617.6v1.2M229.7,617.6v1.2M232.3,617.6v1.2M234.3,617.6v1.2M235.9,617.6v1.2M237.3,617.6v1.2M238.5,617.6v1.2M239.6,617.6v1.2M240.5,617.6v2.2" stroke="#333" stroke-width="0.6" fill="none"/>
<clipPath id="f02"><rect x="245.3" y="536.6" width="81.09999999999997" height="81.0"/></clipPath>
<path d="M289.3,610.2h0.6M283.7,570.6h0.6M292.3,600.0h0.6M293.4,598.8h0.6M289.6,585.7h0.6M284.6,590.4h0.6M287.6,604.3h0.6M295.7,578.0h0.6M296.4,592.9h0.6M299.8,611.4h0.6M295.3,571.8h0.6M296.1,574.4h0.6M303.5,585.3h0.6M289.3,615.4h0.6M276.6,593.7h0.6M282.2,587.0h0.6M284.4,601.6h0.6M288.4,597.5h0.6M296.1,572.6h0.6M302.2,590.3h0.6" stroke="#999" stroke-width="0.6" fill="none"/>
<path d="M281.8,578.1 280.8,578.1 279.9,577.9 279.2,577.4 278.8,576.6 278.7,575.9 278.9,575.1 279.6,574.4 280.3,574.0 281.3,573.8 282.3,574.0 283.3,574.6 283.8,575.4 283.9,576.4 283.6,577.1 282.8,577.8 281.8,578.1Z M291.3,588.7 290.6,588.6 289.8,588.1 289.3,587.4 289.2,586.6 289.2,585.6 289.6,584.6 290.1,584.1 290.8,583.7 291.6,583.8 292.1,584.1 292.6,584.9 292.8,585.9 292.8,586.9 292.5,587.6 292.1,588.3 291.3,588.7Z M291.3,600.9 290.8,600.8 290.2,600.4 289.8,599.9 289.7,599.4 289.9,598.6 290.3,598.1 290.8,597.8 291.3,597.7 291.8,597.8 292.3,598.1 292.7,598.6 292.9,599.4 292.8,599.9 292.4,600.4 291.8,600.8 291.3,600.9Z" fill="none" stroke="#333" stroke-width="0.55" clip-path="url(#f02)"/>
<path d="M294.1,621.8 286.3,621.2 284.1,620.9 281.8,620.3 279.8,619.6 278.4,618.8 277.7,618.1 277.6,617.6 277.6,617.1 278.1,616.3 279.3,615.4 280.8,614.8 282.8,614.2 287.3,613.5 295.3,612.9 298.6,612.8 301.3,612.8 314.1,613.6 317.3,614.0 321.6,614.8 322.6,614.8 325.1,614.0 325.8,613.9 326.6,614.0 M326.6,620.8 325.8,620.9 325.1,620.8 322.6,620.0 321.6,620.0 318.1,620.7 315.8,621.0 304.2,621.8 M326.6,619.8 325.8,619.9 324.8,619.7 323.9,619.3 322.3,618.2 321.8,618.1 321.3,618.2 319.5,619.1 318.3,619.5 315.1,620.1 302.1,621.2 299.6,621.3 296.8,621.2 288.1,620.5 284.3,619.9 282.6,619.4 281.4,618.8 280.5,618.1 280.3,617.3 280.7,616.6 281.6,615.9 282.9,615.3 284.6,614.9 288.8,614.2 297.3,613.5 302.3,613.6 315.1,614.7 318.3,615.3 319.6,615.8 321.3,616.6 321.8,616.7 322.3,616.6 323.8,615.6 324.8,615.1 325.8,614.9 326.6,615.0 M301.3,620.6 298.8,620.6 296.1,620.5 287.6,619.5 285.7,619.1 284.4,618.6 283.7,618.1 283.5,617.8 283.4,617.3 283.7,616.8 284.3,616.3 285.6,615.8 287.3,615.4 294.8,614.4 299.3,614.2 303.1,614.4 314.3,615.7 316.6,616.3 317.4,616.8 317.7,617.3 317.6,617.8 317.0,618.3 316.1,618.7 314.7,619.1 301.3,620.6Z M326.6,618.1 326.1,618.4 325.3,618.4 324.8,618.0 324.6,617.3 324.8,616.8 325.3,616.4 326.1,616.4 326.6,616.7 M301.6,619.8 299.3,619.9 297.1,619.8 291.5,619.1 288.4,618.3 287.5,617.8 287.3,617.6 287.3,617.3 287.7,616.8 288.2,616.6 290.6,615.9 295.6,615.1 299.3,614.9 302.1,615.0 304.8,615.4 311.1,616.8 311.7,617.1 312.0,617.3 312.0,617.6 311.6,617.8 310.9,618.1 304.8,619.4 301.6,619.8Z M301.6,619.1 298.6,619.2 295.3,618.8 292.7,618.1 292.1,617.6 292.0,617.3 292.6,616.8 294.8,616.1 297.1,615.7 299.3,615.6 301.3,615.7 303.4,616.1 304.9,616.6 305.7,617.1 305.9,617.3 305.9,617.6 305.7,617.8 304.8,618.3 303.2,618.8 301.6,619.1Z M301.3,618.3 299.3,618.5 297.3,618.3 295.7,617.8 295.5,617.6 295.5,617.3 295.7,617.1 296.1,616.8 297.0,616.6 299.3,616.3 301.7,616.6 302.4,616.8 303.0,617.3 303.0,617.6 302.8,617.8 302.3,618.1 301.3,618.3Z" fill="none" stroke="#111" stroke-width="0.55" clip-path="url(#f02)"/>
<ellipse cx="300" cy="617.0" rx="6.5" ry="1.9" fill="#000" clip-path="url(#f02)"/>
<circle cx="279" cy="583" r="0.7" fill="#555"/>
<path d="M245.3,536.6 H326.4" stroke="#b0b0b0" stroke-width="1.2" fill="none"/>
<path d="M326.4,536.6 V617.6" stroke="#999" stroke-width="1" fill="none"/>
<path d="M245.3,536.1 V617.6 H326.4" stroke="#6a6a6a" stroke-width="1" fill="none"/>
<path d="M245.3,617.6h-2.2M245.3,611.5h-1.2M245.3,607.9h-1.2M245.3,605.4h-1.2M245.3,603.4h-1.2M245.3,601.8h-1.2M245.3,600.5h-1.2M245.3,599.3h-1.2M245.3,598.3h-1.2M245.3,597.4h-2.2M245.3,591.3h-1.2M245.3,587.7h-1.2M245.3,585.2h-1.2M245.3,583.2h-1.2M245.3,581.6h-1.2M245.3,580.2h-1.2M245.3,579.1h-1.2M245.3,578.0h-1.2M245.3,577.1h-2.2M245.3,571.0h-1.2M245.3,567.4h-1.2M245.3,564.9h-1.2M245.3,562.9h-1.2M245.3,561.3h-1.2M245.3,560.0h-1.2M245.3,558.8h-1.2M245.3,557.8h-1.2M245.3,556.9h-2.2M245.3,550.8h-1.2M245.3,547.2h-1.2M245.3,544.7h-1.2M245.3,542.7h-1.2M245.3,541.1h-1.2M245.3,539.7h-1.2M245.3,538.6h-1.2M245.3,537.5h-1.2M245.3,536.6h-2.2M245.3,617.6v2.2M251.4,617.6v1.2M255.0,617.6v1.2M257.5,617.6v1.2M259.5,617.6v1.2M261.1,617.6v1.2M262.4,617.6v1.2M263.6,617.6v1.2M264.6,617.6v1.2M265.6,617.6v2.2M271.7,617.6v1.2M275.2,617.6v1.2M277.8,617.6v1.2M279.7,617.6v1.2M281.4,617.6v1.2M282.7,617.6v1.2M283.9,617.6v1.2M284.9,617.6v1.2M285.9,617.6v2.2M292.0,617.6v1.2M295.5,617.6v1.2M298.1,617.6v1.2M300.0,617.6v1.2M301.6,617.6v1.2M303.0,617.6v1.2M304.2,617.6v1.2M305.2,617.6v1.2M306.1,617.6v2.2M312.2,617.6v1.2M315.8,617.6v1.2M318.3,617.6v1.2M320.3,617.6v1.2M321.9,617.6v1.2M323.3,617.6v1.2M324.4,617.6v1.2M325.5,617.6v1.2M326.4,617.6v2.2" stroke="#333" stroke-width="0.6" fill="none"/>
<clipPath id="f10"><rect x="71.7" y="646.1" width="80.8" height="80.89999999999998"/></clipPath>
<path d="M130.4,716.8h0.64M111.9,684.1h0.64M125.5,723.0h0.64M126.1,680.2h0.64M112.2,696.6h0.64M132.6,697.3h0.64M117.1,694.1h0.64M123.4,686.5h0.64M121.4,701.4h0.64M140.7,696.6h0.64M132.7,682.3h0.64M131.5,699.8h0.64M115.0,697.1h0.64M132.0,692.7h0.64M133.5,719.9h0.64M140.5,721.3h0.64M106.4,702.5h0.64M113.4,711.4h0.64M122.3,700.8h0.64M126.8,688.8h0.64M122.6,686.9h0.64M145.9,690.8h0.64M121.6,671.6h0.64M104.0,685.2h0.64M130.8,708.9h0.64M124.7,688.1h0.64M143.2,682.4h0.64M111.4,704.7h0.64M109.7,701.5h0.64M132.9,696.5h0.64M126.2,698.1h0.64M113.5,650.8h0.64M107.0,697.4h0.64M102.1,689.2h0.64M123.9,717.2h0.64M105.3,689.7h0.64M124.1,705.3h0.64M105.1,725.0h0.64M111.8,713.6h0.64M119.0,703.6h0.64M141.2,708.0h0.64M123.0,682.7h0.64M113.7,676.4h0.64M145.3,674.5h0.64M90.9,721.9h0.64M136.6,692.2h0.64M131.4,685.3h0.64M114.6,705.0h0.64M126.1,690.7h0.64M140.7,708.5h0.64M123.1,680.0h0.64M123.0,692.8h0.64M120.5,709.4h0.64M114.6,701.4h0.64M130.9,702.8h0.64M148.7,671.6h0.64M120.6,679.9h0.64M101.9,693.1h0.64M129.2,698.8h0.64M132.3,674.3h0.64M133.0,683.2h0.64M106.8,705.9h0.64M127.0,686.6h0.64M111.6,694.4h0.64M121.2,694.9h0.64M109.2,662.8h0.64M136.9,700.0h0.64M106.5,674.0h0.64M113.0,691.2h0.64M95.9,718.2h0.64M126.3,692.5h0.64M125.4,700.7h0.64M133.9,699.6h0.64M136.3,720.3h0.64M117.5,690.5h0.64M110.7,693.8h0.64M112.6,697.4h0.64M124.9,705.3h0.64M107.4,713.4h0.64M117.5,695.6h0.64M115.1,667.4h0.64M124.2,670.8h0.64M134.4,697.8h0.64M139.8,706.9h0.64M129.6,718.1h0.64M120.7,720.2h0.64M119.6,701.0h0.64M113.1,705.3h0.64M129.1,689.7h0.64M105.9,696.6h0.64M126.2,694.8h0.64M109.5,686.4h0.64M118.0,658.0h0.64M114.1,718.6h0.64M105.8,693.9h0.64M141.3,707.7h0.64M132.1,695.0h0.64M124.7,700.7h0.64M140.7,709.2h0.64M121.8,680.7h0.64M119.3,694.9h0.64M113.0,684.2h0.64M109.2,695.4h0.64M114.0,703.2h0.64M133.2,701.8h0.64M121.3,720.4h0.64M128.9,675.1h0.64M112.5,700.0h0.64M110.6,708.4h0.64M100.2,668.6h0.64M132.8,705.8h0.64M102.0,698.2h0.64M137.1,680.4h0.64M106.9,678.9h0.64M109.3,671.2h0.64M115.3,675.4h0.64M108.5,710.6h0.64M135.0,662.6h0.64M122.4,696.9h0.64M117.0,709.0h0.64M115.8,702.3h0.64M116.4,695.0h0.64M120.4,680.3h0.64M144.3,720.6h0.64M118.7,687.2h0.64M112.2,715.5h0.64M117.1,686.4h0.64M131.1,693.0h0.64M120.4,726.0h0.64M131.3,715.6h0.64M126.0,716.3h0.64M119.0,711.4h0.64M133.5,690.9h0.64M105.7,705.0h0.64M119.6,706.1h0.64M113.8,704.9h0.64M142.4,702.9h0.64M138.2,687.7h0.64M135.1,699.1h0.64M136.9,702.0h0.64M118.3,686.4h0.64M136.0,697.9h0.64M129.6,704.2h0.64M96.6,706.0h0.64M116.6,702.9h0.64M126.8,670.1h0.64M117.3,696.1h0.64M125.7,711.1h0.64M112.9,693.6h0.64M128.5,669.7h0.64M143.2,682.9h0.64M136.8,699.2h0.64M143.5,712.6h0.64M120.6,671.7h0.64M122.6,701.9h0.64M127.5,678.2h0.64M111.1,685.4h0.64M124.4,684.0h0.64M119.6,710.9h0.64M116.0,717.1h0.64M124.6,693.3h0.64M134.1,704.4h0.64M117.6,688.2h0.64M120.5,702.2h0.64M134.6,701.1h0.64M113.6,677.2h0.64M124.1,702.9h0.64M134.5,689.1h0.64M105.6,709.5h0.64M119.0,678.9h0.64M140.8,710.3h0.64M121.8,701.2h0.64M112.1,711.8h0.64M115.9,690.3h0.64M117.5,680.1h0.64M133.3,721.9h0.64M130.1,666.4h0.64M117.4,687.5h0.64M125.5,665.1h0.64M95.3,690.2h0.64M132.7,694.2h0.64M147.3,684.4h0.64M121.5,694.8h0.64M111.1,713.6h0.64M105.3,681.3h0.64M116.7,689.9h0.64M134.5,689.2h0.64M127.0,690.1h0.64M136.3,696.8h0.64M124.2,672.7h0.64M129.4,687.4h0.64M131.6,704.6h0.64M127.5,713.8h0.64M125.5,683.9h0.64M122.9,699.6h0.64M107.0,706.2h0.64M138.5,700.7h0.64M122.4,703.9h0.64M134.1,689.0h0.64M132.4,686.0h0.64M127.4,704.8h0.64M105.7,706.8h0.64M123.6,672.2h0.64M115.6,687.7h0.64M110.4,703.2h0.64M111.6,697.8h0.64M108.1,693.1h0.64M142.8,703.2h0.64M102.5,683.0h0.64M119.4,672.8h0.64M132.7,696.4h0.64M120.2,697.8h0.64M112.9,680.0h0.64M84.0,672.9h0.64M123.8,707.2h0.64M118.8,669.7h0.64M117.0,697.5h0.64M105.6,717.4h0.64M107.6,697.0h0.64M108.0,710.5h0.64M106.0,683.6h0.64M134.3,678.3h0.64M114.6,705.1h0.64M125.2,670.9h0.64M128.2,692.6h0.64M135.5,671.2h0.64M130.1,703.0h0.64M116.5,690.7h0.64M125.6,686.7h0.64M116.9,685.6h0.64M122.6,707.0h0.64M102.0,697.4h0.64M124.7,719.4h0.64M112.1,715.7h0.64M115.7,704.2h0.64M123.6,701.0h0.64M116.9,682.4h0.64M138.7,718.6h0.64M119.6,694.4h0.64M118.5,677.1h0.64M107.7,703.1h0.64M132.3,693.6h0.64M109.8,680.9h0.64M113.6,707.3h0.64M121.5,675.7h0.64M107.1,701.8h0.64M124.5,723.1h0.64M138.1,699.7h0.64M112.8,700.0h0.64M107.4,686.7h0.64M132.9,706.0h0.64M131.9,720.1h0.64M116.0,708.8h0.64M121.8,701.6h0.64M123.7,704.9h0.64M104.5,676.5h0.64M122.1,704.2h0.64M115.2,695.4h0.64M104.2,711.2h0.64M126.4,719.3h0.64M116.1,695.5h0.64M121.8,717.3h0.64M127.7,702.8h0.64M101.4,684.2h0.64M103.4,694.2h0.64M131.2,697.7h0.64M107.8,717.5h0.64M134.8,700.8h0.64M137.0,680.8h0.64M114.3,692.4h0.64M125.4,694.3h0.64M141.3,691.3h0.64M118.2,678.9h0.64M126.6,708.7h0.64M112.0,678.2h0.64M104.4,714.3h0.64M130.3,701.1h0.64M130.0,704.2h0.64M126.4,672.8h0.64M127.1,707.4h0.64M134.5,711.3h0.64M112.9,700.8h0.64M104.1,718.3h0.64M104.6,707.4h0.64M111.6,684.8h0.64M110.3,692.0h0.64M125.5,713.6h0.64M117.4,709.6h0.64M113.8,701.5h0.64M129.2,699.1h0.64M128.4,687.0h0.64M116.7,687.6h0.64M113.3,683.7h0.64M119.7,678.7h0.64M114.1,705.6h0.64M102.2,681.2h0.64M116.1,681.0h0.64M109.0,724.8h0.64M124.8,690.1h0.64M112.1,673.7h0.64M107.1,662.4h0.64M127.5,689.2h0.64M131.7,696.7h0.64M97.1,725.1h0.64M127.0,710.1h0.64M114.3,688.5h0.64M118.7,723.5h0.64M105.9,680.9h0.64M127.0,667.5h0.64M138.5,679.7h0.64M135.0,694.6h0.64M116.7,679.8h0.64M138.2,692.8h0.64M104.9,706.4h0.64M119.2,704.6h0.64M116.1,702.3h0.64M126.3,697.2h0.64M101.5,704.2h0.64M137.3,703.4h0.64M132.0,708.5h0.64M117.3,712.6h0.64M118.1,681.9h0.64M105.9,712.2h0.64M129.3,706.2h0.64M114.2,669.8h0.64M130.2,695.5h0.64M113.7,687.8h0.64M114.1,669.3h0.64M128.3,707.4h0.64M131.3,691.5h0.64M106.0,676.5h0.64M117.2,722.8h0.64M131.9,697.3h0.64M126.5,709.0h0.64M121.6,700.3h0.64M123.4,688.3h0.64M107.3,688.5h0.64M134.6,673.4h0.64M115.7,690.7h0.64M121.4,690.2h0.64M130.3,691.4h0.64M120.9,707.5h0.64M104.1,713.1h0.64M133.2,677.4h0.64M119.8,685.9h0.64M116.6,708.5h0.64M98.7,709.4h0.64M126.0,696.8h0.64M147.2,689.6h0.64M103.1,702.6h0.64M122.7,687.6h0.64M95.7,668.8h0.64M140.3,674.4h0.64M137.4,709.1h0.64M94.8,699.8h0.64M128.6,713.4h0.64M136.7,715.6h0.64M120.5,693.3h0.64M118.6,704.7h0.64M109.8,681.1h0.64M148.2,711.1h0.64M133.6,693.5h0.64M110.8,690.6h0.64M111.5,687.6h0.64M102.4,706.1h0.64M124.9,708.6h0.64M121.7,686.3h0.64M145.0,710.8h0.64M127.6,710.0h0.64M117.4,707.8h0.64M112.1,711.9h0.64M132.0,709.3h0.64M125.6,698.9h0.64" stroke="#777" stroke-width="0.64" fill="none"/>
<path d="M131.7,720.1 130.2,720.3 128.9,720.0 127.7,719.5 126.6,718.6 126.1,717.9 125.7,717.1 125.3,716.1 125.1,714.9 124.5,713.5 123.3,712.1 122.4,710.6 121.7,708.2 119.7,703.2 115.0,697.8 108.2,692.3 106.7,690.8 103.5,688.1 102.0,687.0 100.8,685.9 100.0,684.6 99.3,683.1 98.8,681.1 98.8,679.4 99.1,677.6 99.7,675.9 100.7,674.4 102.0,673.0 103.5,671.9 105.0,671.3 106.2,670.9 108.0,670.7 109.5,670.9 111.0,671.2 112.7,672.0 116.5,673.3 118.5,673.8 120.2,674.6 128.9,679.7 130.7,681.0 132.2,682.6 138.5,691.4 139.2,692.6 139.6,693.9 139.9,695.1 140.1,696.6 140.0,698.4 139.7,700.1 139.2,705.6 139.3,707.6 139.1,709.1 138.7,710.4 138.2,711.4 137.5,712.4 136.7,713.4 135.9,714.9 135.5,716.6 134.9,717.9 134.4,718.6 133.5,719.4 132.7,719.8 131.7,720.1Z M131.2,717.7 130.2,717.7 129.4,717.5 128.7,717.1 128.2,716.5 127.9,715.9 127.6,714.9 125.9,711.9 125.1,710.9 124.5,709.9 123.9,707.9 121.5,701.9 116.5,696.4 103.2,686.0 102.3,685.1 101.5,684.1 100.9,682.9 100.4,681.4 100.3,679.9 100.5,678.4 101.0,676.9 101.7,675.6 102.7,674.4 104.0,673.5 105.5,672.8 106.7,672.4 108.0,672.3 109.5,672.5 110.7,672.8 117.0,675.3 118.2,675.7 119.5,676.3 128.0,681.5 129.4,682.7 130.5,683.9 136.6,692.4 137.1,693.4 137.6,694.6 137.9,696.9 137.8,698.1 137.6,699.4 137.1,705.9 137.1,707.1 137.0,708.4 136.7,709.4 136.2,710.4 135.1,711.9 134.2,713.5 133.4,714.9 132.9,716.4 132.2,717.2 131.2,717.7Z M130.4,714.1 129.6,713.9 128.7,713.2 128.0,712.2 127.1,710.9 126.2,709.9 125.7,708.9 125.4,707.6 122.8,701.4 117.6,695.6 104.0,685.3 103.1,684.6 102.3,683.6 101.7,682.4 101.4,681.1 101.3,679.9 101.4,678.6 101.8,677.4 102.4,676.4 103.2,675.3 104.2,674.5 105.5,673.8 106.7,673.4 108.0,673.3 109.5,673.4 110.5,673.8 119.0,677.4 127.5,682.8 128.5,683.6 129.6,684.9 135.2,692.9 135.8,693.9 136.2,694.9 136.5,696.9 135.6,706.1 135.6,707.1 135.5,708.1 134.9,709.6 133.9,710.9 132.4,713.0 131.4,713.8 130.4,714.1Z M130.9,711.4 130.4,711.4 129.7,711.2 127.6,709.4 127.1,708.6 126.8,707.6 123.7,700.6 118.4,694.9 104.5,684.8 103.2,683.5 102.6,682.6 102.2,681.4 102.1,680.4 102.1,679.1 102.4,677.9 102.9,676.9 103.7,675.9 104.5,675.2 105.7,674.5 107.2,674.1 108.7,674.1 110.2,674.5 118.5,678.2 127.0,683.7 128.0,684.5 128.7,685.4 134.4,693.7 135.1,695.1 135.3,696.4 135.3,697.6 135.1,698.9 134.1,708.1 133.8,708.9 133.2,709.6 131.7,710.9 130.9,711.4Z M131.2,709.1 130.4,709.2 129.8,709.1 129.2,708.8 128.7,708.4 128.3,707.4 126.5,704.1 124.6,700.1 119.0,694.2 111.2,688.6 105.0,684.3 103.9,683.4 103.2,682.4 102.9,681.4 102.7,680.4 102.7,679.4 103.0,678.4 103.4,677.4 104.0,676.6 104.7,675.8 106.0,675.1 107.2,674.7 108.7,674.7 110.0,675.1 118.0,678.9 126.5,684.4 127.7,685.6 133.5,694.1 134.0,695.1 134.3,696.1 134.3,697.9 133.5,703.4 132.7,706.6 132.6,707.6 132.4,708.1 132.0,708.6 131.2,709.1Z M130.7,705.7 130.2,705.8 129.7,705.7 128.7,705.0 127.5,703.3 125.5,699.6 119.6,693.6 112.0,688.3 105.3,683.9 104.4,683.1 103.9,682.4 103.5,681.4 103.3,680.6 103.3,679.6 103.5,678.6 103.8,677.9 104.3,677.1 105.0,676.4 106.2,675.6 107.5,675.3 108.7,675.3 110.0,675.7 117.7,679.5 126.0,685.1 127.0,686.0 132.7,694.7 133.3,696.1 133.3,697.6 132.2,702.9 131.5,704.9 130.7,705.7Z M129.9,702.4 129.2,702.4 128.4,701.8 127.7,700.9 126.5,699.1 120.2,693.0 112.5,687.8 105.7,683.5 105.0,682.9 104.4,682.1 104.0,681.4 103.8,679.9 104.2,678.4 105.0,677.1 106.0,676.4 107.2,675.9 108.5,675.8 109.7,676.2 117.5,680.2 126.2,686.4 126.8,687.1 129.9,692.1 131.8,695.4 132.2,696.4 132.2,697.6 131.3,700.6 130.7,701.8 129.9,702.4Z M129.2,699.1 128.4,698.9 127.7,698.5 124.5,695.8 120.8,692.4 113.0,687.3 106.1,683.1 105.5,682.6 105.0,682.0 104.6,681.4 104.4,680.1 104.6,678.9 105.3,677.6 106.2,676.8 107.2,676.5 108.5,676.4 109.5,676.7 117.0,680.7 125.4,686.9 126.1,687.6 128.2,691.2 130.9,696.4 131.0,697.1 130.7,698.0 129.9,698.8 129.2,699.1Z M127.5,695.4 126.7,695.3 125.5,694.7 124.0,693.7 121.5,691.6 113.5,686.7 106.0,682.4 105.2,681.4 104.9,680.4 105.1,679.1 105.6,678.1 106.5,677.3 107.5,677.0 108.5,677.0 109.5,677.3 116.7,681.4 124.7,687.5 125.4,688.4 126.7,691.1 127.5,692.9 127.9,694.6 127.8,695.1 127.5,695.4Z M124.0,690.9 123.5,690.9 122.5,690.6 120.4,689.6 106.7,682.1 106.0,681.4 105.6,680.6 105.5,679.6 105.9,678.6 106.5,678.1 107.2,677.6 108.0,677.5 108.7,677.6 111.4,679.1 116.2,682.1 120.8,685.9 124.0,688.8 124.2,689.3 124.3,690.1 124.2,690.6 124.0,690.9Z M117.0,685.5 116.0,685.4 113.1,684.4 110.2,683.1 107.2,681.6 106.7,681.2 106.3,680.6 106.2,679.9 106.4,679.1 106.9,678.6 107.5,678.3 108.2,678.2 109.0,678.5 112.9,681.1 115.7,683.3 116.9,684.9 117.1,685.4 117.0,685.5Z" fill="none" stroke="#333" stroke-width="0.6" clip-path="url(#f10)"/>
<path d="M133.9,730.5 130.2,730.6 126.2,730.4 122.2,730.1 119.5,729.7 117.5,729.1 115.8,728.2 115.1,727.5 114.9,727.0 115.0,726.5 115.4,725.7 116.5,725.0 118.0,724.4 119.7,723.9 124.0,723.3 130.4,723.0 138.9,723.4 143.2,723.9 144.9,724.3 146.5,725.0 147.6,725.7 148.0,726.5 148.0,727.2 147.5,728.0 146.3,728.7 144.7,729.3 142.7,729.8 140.7,730.1 133.9,730.5Z M101.0,728.5 100.0,728.3 99.2,727.9 98.7,727.2 98.7,726.5 99.0,726.0 99.7,725.4 100.7,725.1 101.7,725.2 102.5,725.5 103.0,725.9 103.3,726.5 103.3,727.0 103.0,727.7 102.5,728.1 101.7,728.4 101.0,728.5Z M131.9,730.0 129.2,730.0 126.0,729.8 123.0,729.5 120.5,729.1 118.7,728.6 117.6,728.0 116.9,727.2 116.9,726.5 117.5,725.7 118.2,725.3 119.5,724.8 121.0,724.4 125.2,723.8 130.4,723.6 137.7,723.9 141.9,724.4 143.4,724.8 144.7,725.2 145.5,725.7 146.1,726.5 146.1,727.2 145.4,727.9 144.4,728.5 142.9,729.0 139.4,729.5 131.9,730.0Z M134.7,729.2 131.7,729.4 129.2,729.4 126.0,729.2 123.2,728.9 121.4,728.5 120.0,728.0 119.2,727.5 119.0,727.2 118.9,726.7 119.1,726.2 119.8,725.7 120.7,725.3 122.0,725.0 126.0,724.4 130.4,724.2 134.7,724.4 140.7,725.0 141.9,725.3 143.1,725.7 143.8,726.2 144.1,726.7 143.9,727.2 143.4,727.7 141.7,728.4 139.2,728.8 134.7,729.2Z M133.2,728.7 129.2,728.8 124.7,728.3 122.2,727.7 121.4,727.2 121.2,726.7 121.6,726.2 122.0,726.0 123.7,725.4 127.0,725.0 130.4,724.7 133.7,724.9 138.7,725.5 140.6,726.0 141.2,726.3 141.5,726.7 141.4,727.0 140.9,727.5 139.7,727.9 137.7,728.2 133.2,728.7Z M131.9,728.2 129.2,728.2 126.7,727.9 124.9,727.5 124.4,727.2 124.1,727.0 124.1,726.7 124.2,726.5 124.6,726.2 126.4,725.7 128.4,725.4 130.4,725.3 132.7,725.4 134.8,725.7 136.9,726.2 137.5,726.5 137.8,726.7 137.7,727.0 137.4,727.1 136.6,727.5 134.2,728.0 131.9,728.2Z M132.7,727.5 130.7,727.7 128.9,727.6 127.4,727.2 127.0,727.0 126.9,726.7 127.2,726.5 128.0,726.2 129.1,726.0 130.4,725.9 132.9,726.1 134.0,726.5 134.2,726.7 134.2,727.0 133.8,727.2 132.7,727.5Z" fill="none" stroke="#111" stroke-width="0.55" clip-path="url(#f10)"/>
<ellipse cx="131" cy="726.4" rx="8.5" ry="1.9" fill="#000" clip-path="url(#f10)"/>
<path d="M71.7,646.1 H152.5" stroke="#b0b0b0" stroke-width="1.2" fill="none"/>
<path d="M152.5,646.1 V727.0" stroke="#999" stroke-width="1" fill="none"/>
<path d="M71.7,645.6 V727.0 H152.5" stroke="#6a6a6a" stroke-width="1" fill="none"/>
<path d="M71.7,727.0h-2.2M71.7,720.9h-1.2M71.7,717.4h-1.2M71.7,714.8h-1.2M71.7,712.9h-1.2M71.7,711.3h-1.2M71.7,709.9h-1.2M71.7,708.7h-1.2M71.7,707.7h-1.2M71.7,706.8h-2.2M71.7,700.7h-1.2M71.7,697.1h-1.2M71.7,694.6h-1.2M71.7,692.6h-1.2M71.7,691.0h-1.2M71.7,689.7h-1.2M71.7,688.5h-1.2M71.7,687.5h-1.2M71.7,686.5h-2.2M71.7,680.5h-1.2M71.7,676.9h-1.2M71.7,674.4h-1.2M71.7,672.4h-1.2M71.7,670.8h-1.2M71.7,669.5h-1.2M71.7,668.3h-1.2M71.7,667.3h-1.2M71.7,666.3h-2.2M71.7,660.2h-1.2M71.7,656.7h-1.2M71.7,654.1h-1.2M71.7,652.2h-1.2M71.7,650.6h-1.2M71.7,649.2h-1.2M71.7,648.1h-1.2M71.7,647.0h-1.2M71.7,646.1h-2.2M71.7,727.0v2.2M77.8,727.0v1.2M81.3,727.0v1.2M83.9,727.0v1.2M85.8,727.0v1.2M87.4,727.0v1.2M88.8,727.0v1.2M89.9,727.0v1.2M91.0,727.0v1.2M91.9,727.0v2.2M98.0,727.0v1.2M101.5,727.0v1.2M104.1,727.0v1.2M106.0,727.0v1.2M107.6,727.0v1.2M109.0,727.0v1.2M110.1,727.0v1.2M111.2,727.0v1.2M112.1,727.0v2.2M118.2,727.0v1.2M121.7,727.0v1.2M124.3,727.0v1.2M126.2,727.0v1.2M127.8,727.0v1.2M129.2,727.0v1.2M130.3,727.0v1.2M131.4,727.0v1.2M132.3,727.0v2.2M138.4,727.0v1.2M141.9,727.0v1.2M144.5,727.0v1.2M146.4,727.0v1.2M148.0,727.0v1.2M149.4,727.0v1.2M150.5,727.0v1.2M151.6,727.0v1.2M152.5,727.0v2.2" stroke="#333" stroke-width="0.6" fill="none"/>
<clipPath id="f11"><rect x="158.2" y="646.1" width="82.30000000000001" height="81.0"/></clipPath>
<path d="M209.4,693.9h0.64M205.4,703.0h0.64M196.6,684.8h0.64M209.7,689.0h0.64M213.2,692.7h0.64M180.6,675.3h0.64M192.2,664.7h0.64M202.0,691.4h0.64M214.8,682.4h0.64M200.1,705.0h0.64M212.3,679.9h0.64M222.1,686.2h0.64M218.1,691.3h0.64M197.7,676.4h0.64M195.0,720.2h0.64M219.7,689.9h0.64M217.0,717.8h0.64M199.2,687.7h0.64M217.1,701.6h0.64M229.8,702.9h0.64M188.5,695.3h0.64M188.1,707.9h0.64M211.9,689.6h0.64M191.9,710.1h0.64M198.3,715.3h0.64M190.7,691.7h0.64M196.2,679.7h0.64M237.3,722.5h0.64M195.1,708.6h0.64M180.4,715.8h0.64M216.7,690.7h0.64M198.6,700.0h0.64M208.8,690.4h0.64M192.4,692.0h0.64M197.7,708.4h0.64M204.2,699.8h0.64M182.1,690.1h0.64M198.1,688.0h0.64M201.6,691.4h0.64M183.9,711.0h0.64M214.7,688.1h0.64M211.0,681.5h0.64M187.3,693.0h0.64M222.8,694.6h0.64M183.9,700.1h0.64M196.0,685.0h0.64M207.7,668.9h0.64M180.7,673.4h0.64M217.0,698.0h0.64M195.7,685.8h0.64M211.7,716.3h0.64M194.3,700.8h0.64M233.3,706.2h0.64M199.4,702.0h0.64M204.9,707.3h0.64M208.1,688.9h0.64M202.1,702.7h0.64M195.0,697.9h0.64M192.1,716.3h0.64M223.3,683.1h0.64M214.4,699.5h0.64M204.8,692.8h0.64M207.0,712.7h0.64M188.2,712.8h0.64M200.3,679.6h0.64M203.1,706.9h0.64M202.6,701.5h0.64M199.4,688.4h0.64M216.3,682.2h0.64M216.2,702.2h0.64M200.2,693.3h0.64M200.1,696.3h0.64M203.1,694.7h0.64M179.4,663.8h0.64M208.0,687.0h0.64M196.6,694.2h0.64M189.9,721.1h0.64M203.7,694.2h0.64M190.5,710.7h0.64M212.8,720.1h0.64M214.9,684.2h0.64M187.9,718.2h0.64M195.3,695.2h0.64M201.8,704.7h0.64M210.6,680.8h0.64M195.7,669.9h0.64M210.7,694.4h0.64M182.7,713.1h0.64M203.9,681.2h0.64M198.6,687.8h0.64M205.0,700.1h0.64M196.6,703.5h0.64M171.5,691.6h0.64M211.8,711.7h0.64M213.7,680.8h0.64M182.8,691.6h0.64M232.0,701.0h0.64M194.5,670.9h0.64M205.5,689.9h0.64M209.9,699.8h0.64M174.7,694.9h0.64M213.4,687.7h0.64M188.9,678.9h0.64M221.1,687.4h0.64M220.6,680.4h0.64M196.9,685.2h0.64M201.3,706.9h0.64M228.6,708.1h0.64M202.2,699.1h0.64M200.7,702.4h0.64M192.9,700.6h0.64M209.2,711.2h0.64M193.3,703.2h0.64M207.0,684.2h0.64M179.2,688.1h0.64M214.2,692.3h0.64M231.5,705.3h0.64M194.6,695.1h0.64M209.1,704.0h0.64M200.6,703.6h0.64M239.8,710.6h0.64M205.5,689.3h0.64M181.6,699.3h0.64M198.5,695.8h0.64M196.7,708.4h0.64M216.6,685.8h0.64M186.6,701.4h0.64M220.4,702.9h0.64M209.4,675.1h0.64M196.7,705.4h0.64M208.0,696.4h0.64M210.4,709.6h0.64M204.5,685.7h0.64M186.2,699.7h0.64M201.3,693.8h0.64M217.0,686.5h0.64M200.1,706.5h0.64M192.6,663.7h0.64M196.7,708.9h0.64M196.0,692.7h0.64M180.7,714.7h0.64M182.1,686.3h0.64M201.2,726.1h0.64M204.7,685.5h0.64M185.2,691.7h0.64M188.4,687.0h0.64M204.0,715.0h0.64M189.9,717.2h0.64M179.7,726.0h0.64M195.5,690.8h0.64M197.6,700.0h0.64M202.7,691.4h0.64M194.9,688.1h0.64M204.1,688.3h0.64M195.0,674.5h0.64M203.7,703.9h0.64M190.9,711.6h0.64M202.9,698.0h0.64M182.6,705.8h0.64M218.6,725.8h0.64M195.9,695.5h0.64M212.3,704.5h0.64M195.6,697.4h0.64M215.2,704.9h0.64M202.7,712.3h0.64M185.3,703.1h0.64M195.4,690.9h0.64M213.1,722.8h0.64M208.8,698.4h0.64M223.3,707.9h0.64M176.7,687.3h0.64M195.4,686.3h0.64M185.3,706.3h0.64M205.5,722.9h0.64M200.1,698.4h0.64M194.5,712.0h0.64M218.8,721.9h0.64M215.8,688.0h0.64M218.2,683.0h0.64M196.2,693.9h0.64M228.8,686.2h0.64M191.7,700.4h0.64M217.9,705.3h0.64M210.3,684.2h0.64M199.0,716.1h0.64M205.0,687.2h0.64M199.5,717.1h0.64M224.4,703.1h0.64M193.9,722.0h0.64M196.1,698.5h0.64M208.8,696.9h0.64M201.7,721.2h0.64M207.6,675.6h0.64M196.8,716.7h0.64M201.7,681.7h0.64M214.8,704.3h0.64M204.4,705.5h0.64M199.3,699.8h0.64M210.8,688.7h0.64M218.8,681.4h0.64M228.7,698.2h0.64M208.3,678.9h0.64M213.2,684.6h0.64M209.8,697.3h0.64M194.2,723.5h0.64M205.9,689.4h0.64M199.6,701.9h0.64M204.5,709.8h0.64M197.1,700.4h0.64M198.1,686.7h0.64M213.6,685.0h0.64M184.5,706.9h0.64M197.8,705.6h0.64M210.2,704.7h0.64M204.9,720.3h0.64M191.5,714.6h0.64M202.3,701.6h0.64M199.0,710.1h0.64M209.8,690.6h0.64M204.7,704.5h0.64M210.8,691.5h0.64M216.2,701.3h0.64M198.0,692.3h0.64M185.1,708.6h0.64M222.1,696.2h0.64M194.6,671.8h0.64M189.6,697.4h0.64M196.5,695.1h0.64M194.2,695.0h0.64M201.4,700.1h0.64M205.2,700.2h0.64M194.5,693.2h0.64M189.7,689.9h0.64M203.7,703.8h0.64M188.2,683.2h0.64M197.8,679.4h0.64M200.7,694.4h0.64M195.5,721.3h0.64M199.0,700.9h0.64M183.0,709.6h0.64M207.8,700.2h0.64M178.6,696.3h0.64M196.0,703.2h0.64M203.6,689.4h0.64M198.4,715.4h0.64M216.9,671.8h0.64M198.7,706.5h0.64M199.0,701.8h0.64M200.1,721.3h0.64M212.4,694.4h0.64M220.7,706.8h0.64M223.9,690.4h0.64M186.1,708.9h0.64M204.3,671.3h0.64M204.7,685.2h0.64M198.3,698.7h0.64M187.4,715.6h0.64M188.4,697.6h0.64M203.9,689.7h0.64M194.6,709.7h0.64M184.8,696.9h0.64M222.9,685.6h0.64M185.5,689.6h0.64M168.9,685.5h0.64M189.8,684.5h0.64M193.1,705.5h0.64M204.0,681.6h0.64M218.9,682.2h0.64M221.1,689.5h0.64M192.6,689.9h0.64M220.5,698.5h0.64M203.2,672.0h0.64M203.2,692.0h0.64M199.1,684.9h0.64M184.5,715.5h0.64M191.9,705.5h0.64M210.2,699.0h0.64M205.1,706.1h0.64M199.3,695.3h0.64M207.3,699.4h0.64M199.7,656.4h0.64M203.0,678.0h0.64M217.3,715.2h0.64M206.3,700.4h0.64M179.2,693.8h0.64M194.1,723.8h0.64M201.3,666.1h0.64M225.0,693.3h0.64M207.8,713.0h0.64M184.5,689.3h0.64M205.0,715.5h0.64M201.4,705.4h0.64M182.4,704.4h0.64M192.4,691.3h0.64M204.7,710.0h0.64M195.3,703.1h0.64M199.8,706.0h0.64M198.1,717.6h0.64M191.1,681.1h0.64M218.8,685.8h0.64M211.3,707.1h0.64M183.4,692.2h0.64M197.8,694.7h0.64M185.7,699.3h0.64M205.9,680.1h0.64M203.7,699.8h0.64M183.0,695.5h0.64M214.2,707.7h0.64M190.4,685.0h0.64M203.6,702.5h0.64M213.1,697.7h0.64M213.0,686.6h0.64M225.3,693.7h0.64M191.8,687.9h0.64M181.8,685.0h0.64M199.5,703.5h0.64M216.6,683.4h0.64M194.3,706.5h0.64M215.5,707.5h0.64M206.2,678.8h0.64M196.6,672.8h0.64M194.7,714.7h0.64M221.7,691.9h0.64M210.2,716.2h0.64M190.2,675.5h0.64M195.1,664.4h0.64M211.1,694.5h0.64M199.4,696.6h0.64M208.7,695.4h0.64M188.1,705.3h0.64M196.4,700.0h0.64M194.5,695.8h0.64M184.0,697.5h0.64M199.0,711.5h0.64M193.0,682.4h0.64M210.9,666.0h0.64M210.1,694.1h0.64M197.0,696.8h0.64M199.2,681.7h0.64M211.1,682.0h0.64M203.9,692.4h0.64M193.6,685.9h0.64M205.8,689.9h0.64M218.5,708.1h0.64M197.1,710.2h0.64M174.2,720.7h0.64M186.8,676.1h0.64M215.6,670.9h0.64M193.6,700.0h0.64M177.7,693.0h0.64M213.2,684.5h0.64M220.0,681.9h0.64M219.5,701.3h0.64M204.0,691.7h0.64M190.6,711.0h0.64M188.3,695.2h0.64M210.9,702.3h0.64M210.5,685.8h0.64M187.1,698.6h0.64M200.5,711.2h0.64M178.8,694.9h0.64M207.1,688.2h0.64M183.0,695.5h0.64M214.8,684.8h0.64M191.3,680.1h0.64M190.4,668.4h0.64M239.8,691.8h0.64M216.5,712.8h0.64M195.6,703.9h0.64M224.4,715.3h0.64M214.6,684.6h0.64M194.9,696.2h0.64M221.1,684.9h0.64M210.8,713.0h0.64M212.4,695.7h0.64M195.0,706.2h0.64M198.8,701.4h0.64M196.8,687.9h0.64M197.3,680.7h0.64M214.0,675.3h0.64M207.4,689.2h0.64M208.7,671.1h0.64M202.9,696.6h0.64M219.8,711.1h0.64M207.4,694.9h0.64M203.5,711.2h0.64M218.6,704.9h0.64M217.5,673.5h0.64M214.4,725.7h0.64M204.5,687.5h0.64M219.8,668.4h0.64M217.5,678.8h0.64M209.0,679.1h0.64M221.1,697.2h0.64M196.2,696.0h0.64M219.7,719.2h0.64M206.2,693.2h0.64M221.4,698.7h0.64M196.7,725.3h0.64M184.6,701.6h0.64M222.9,703.5h0.64M207.0,711.1h0.64M192.4,697.2h0.64M203.6,712.3h0.64M209.7,698.8h0.64M219.1,717.5h0.64M208.8,690.7h0.64M224.8,661.3h0.64M190.1,702.1h0.64M196.6,680.5h0.64M201.4,720.3h0.64M205.2,710.5h0.64M213.5,697.9h0.64" stroke="#777" stroke-width="0.64" fill="none"/>
<path d="M215.2,715.9 213.7,716.0 212.4,715.8 211.2,715.1 210.1,714.1 209.3,712.6 208.9,710.9 206.8,704.9 206.2,703.8 202.4,699.4 195.4,696.0 187.2,691.2 186.2,690.5 185.2,689.6 183.8,687.9 182.9,686.1 182.3,684.1 182.1,681.9 182.3,679.9 182.9,677.9 184.0,675.9 185.2,674.4 186.9,672.9 189.2,671.8 190.4,671.4 191.7,671.2 194.2,671.2 196.7,671.7 205.9,675.7 214.4,680.1 215.7,680.9 216.7,681.7 217.7,682.7 218.5,683.9 219.3,685.4 220.0,687.4 220.4,690.1 221.7,696.1 222.2,697.1 222.5,698.4 222.6,699.6 222.6,700.9 222.2,702.9 221.0,705.1 219.1,710.9 218.9,712.1 218.5,713.1 217.9,714.1 217.2,714.8 216.2,715.5 215.2,715.9Z M214.2,713.6 213.4,713.6 212.8,713.4 212.2,712.9 211.7,712.4 211.5,711.9 211.3,710.9 209.9,707.4 208.6,703.6 208.2,702.9 203.8,697.6 196.7,694.2 188.4,689.7 186.8,688.4 185.5,686.9 184.7,685.4 184.3,683.9 184.1,682.1 184.2,680.4 184.8,678.6 185.6,677.1 186.7,675.7 187.9,674.7 189.7,673.7 191.7,673.2 193.9,673.1 195.9,673.6 204.9,677.7 213.4,682.2 215.1,683.4 216.4,684.9 217.2,686.4 217.8,687.9 218.0,689.9 219.8,697.1 220.3,698.6 220.4,699.6 220.4,700.6 220.1,702.1 219.4,703.6 217.9,708.1 216.7,710.9 216.4,712.1 215.9,712.8 215.4,713.2 214.9,713.5 214.2,713.6Z M214.4,709.9 213.9,710.0 213.4,709.8 212.9,709.4 212.4,708.8 211.4,706.9 209.9,702.9 209.6,702.4 204.6,696.4 197.4,693.0 189.2,688.7 187.9,687.8 186.9,686.8 186.1,685.4 185.6,684.1 185.3,682.6 185.4,681.1 185.7,679.6 186.2,678.4 187.1,677.1 188.2,676.0 189.9,674.9 191.7,674.4 193.7,674.3 195.4,674.7 204.4,678.9 209.7,681.7 213.2,683.7 214.2,684.5 215.0,685.4 215.8,686.6 216.3,688.1 216.6,689.9 218.4,697.6 218.9,698.9 219.0,700.1 218.7,701.6 218.1,702.9 216.4,707.2 215.4,709.0 214.9,709.5 214.4,709.9Z M214.4,706.2 213.7,706.2 212.9,705.7 212.2,704.6 211.1,702.4 210.7,701.6 205.2,695.4 198.2,692.2 192.2,689.2 189.4,687.8 187.9,686.5 187.1,685.4 186.6,684.1 186.3,682.9 186.3,681.6 186.4,680.4 186.9,679.1 187.5,678.1 188.4,677.0 189.9,676.0 191.7,675.4 193.4,675.3 195.2,675.6 204.2,680.0 212.2,684.4 213.7,685.6 214.6,686.9 215.2,688.4 215.5,689.9 217.7,699.9 217.6,700.6 217.4,701.4 216.9,702.4 215.9,704.4 215.2,705.5 214.4,706.2Z M214.2,702.6 213.4,702.5 212.4,701.6 211.9,701.0 208.9,698.0 205.9,694.6 198.4,691.3 190.2,687.3 188.9,686.4 188.1,685.4 187.5,684.4 187.2,683.4 187.0,682.1 187.2,680.9 187.5,679.9 188.0,678.9 188.7,677.9 190.2,676.7 191.7,676.2 193.4,676.1 194.9,676.4 203.9,680.9 211.7,685.3 212.8,686.1 213.7,687.3 214.2,688.6 215.5,695.1 216.0,698.9 216.2,699.9 216.2,700.6 215.8,701.4 214.7,702.4 214.2,702.6Z M213.2,699.1 212.2,698.9 210.7,697.9 209.2,696.6 206.4,693.7 198.9,690.6 190.7,686.7 189.7,686.0 188.9,685.3 188.3,684.4 188.0,683.4 187.8,682.4 187.8,681.4 188.1,680.4 188.5,679.4 189.1,678.6 190.2,677.6 191.7,677.0 193.2,676.8 194.7,677.1 203.4,681.6 211.8,686.6 212.7,687.6 213.3,688.9 214.2,694.9 214.3,696.6 214.2,697.9 213.8,698.9 213.2,699.1Z M211.9,695.7 211.4,695.8 210.7,695.6 209.4,694.9 207.2,692.9 199.2,689.9 190.4,685.7 189.7,685.1 189.2,684.4 188.8,683.6 188.6,682.9 188.5,681.9 188.6,681.1 188.9,680.1 189.4,679.4 190.4,678.3 191.7,677.7 193.2,677.5 194.4,677.7 203.1,682.4 210.9,687.2 211.4,687.7 211.9,688.3 212.4,689.6 212.6,693.9 212.4,694.9 212.2,695.4 211.9,695.7Z M210.2,692.4 209.7,692.5 209.2,692.4 199.8,689.1 190.9,685.2 190.3,684.6 189.9,684.1 189.3,682.9 189.2,682.1 189.3,681.4 189.7,680.1 190.4,679.2 191.4,678.6 192.7,678.2 193.9,678.3 195.1,678.9 202.7,683.1 207.2,686.1 210.6,688.6 211.0,689.4 211.1,690.1 210.7,691.8 210.2,692.4Z M206.9,689.4 205.9,689.5 204.7,689.3 200.2,688.2 191.5,684.6 190.6,683.9 190.1,682.9 190.0,681.6 190.3,680.6 191.2,679.6 192.2,679.1 193.4,679.0 194.4,679.4 202.2,684.0 204.6,685.9 206.0,687.1 206.9,688.1 207.3,688.9 207.2,689.1 206.9,689.4Z M200.9,686.1 200.4,686.3 199.9,686.3 197.9,685.9 195.4,685.1 191.9,683.8 191.4,683.4 191.0,682.6 190.9,681.9 191.1,681.1 191.4,680.6 192.2,680.0 193.2,679.9 193.9,680.1 197.3,682.4 199.6,684.1 200.8,685.4 201.1,685.9 200.9,686.1Z" fill="none" stroke="#333" stroke-width="0.6" clip-path="url(#f11)"/>
<path d="M219.4,730.6 214.4,730.7 207.4,730.3 204.2,730.1 199.2,729.3 197.7,729.2 190.9,729.6 187.2,729.5 184.7,729.1 182.7,728.5 181.4,727.8 181.1,727.3 181.0,726.8 181.4,726.1 182.7,725.3 184.7,724.7 186.9,724.3 190.9,724.2 196.2,724.6 197.9,724.6 205.2,723.6 215.2,723.1 221.7,723.4 226.2,724.0 227.9,724.4 229.5,725.1 230.5,725.8 231.0,726.6 231.0,727.3 230.5,728.1 229.4,728.8 228.2,729.3 226.7,729.7 224.4,730.1 219.4,730.6Z M217.7,730.1 213.7,730.1 205.9,729.6 203.2,729.2 198.9,728.2 197.4,728.0 196.2,728.1 191.7,728.7 188.2,728.6 186.2,728.3 184.9,727.9 184.1,727.3 183.9,726.8 184.3,726.3 185.2,725.8 186.4,725.4 188.2,725.2 191.7,725.1 196.2,725.7 197.7,725.8 198.9,725.6 202.7,724.7 204.9,724.3 210.9,723.9 215.2,723.7 220.4,723.9 224.9,724.5 226.4,724.8 227.7,725.3 228.5,725.8 229.1,726.6 229.1,727.3 228.7,727.8 227.7,728.5 226.4,729.0 224.7,729.4 222.9,729.6 217.7,730.1Z M219.7,729.3 216.7,729.5 213.9,729.5 205.9,728.9 203.9,728.5 202.5,728.1 201.5,727.6 201.1,727.1 201.0,726.8 201.4,726.3 202.3,725.8 204.9,725.1 211.2,724.5 215.2,724.3 219.2,724.4 223.4,725.0 225.7,725.6 226.6,726.1 227.0,726.6 227.1,727.1 226.8,727.6 225.5,728.3 223.2,728.9 219.7,729.3Z M218.4,728.8 216.2,728.9 213.9,728.9 207.9,728.3 206.2,728.0 204.9,727.6 204.4,727.3 204.2,727.1 204.2,726.8 204.4,726.4 205.2,726.1 206.9,725.7 212.2,725.0 215.4,724.8 218.7,725.0 222.2,725.5 223.9,726.1 224.4,726.4 224.8,726.8 224.6,727.3 224.3,727.6 223.1,728.1 221.2,728.5 218.4,728.8Z M217.2,728.3 214.4,728.4 211.6,728.1 208.5,727.3 208.2,727.1 208.1,726.8 208.4,726.6 209.1,726.3 211.3,725.8 213.4,725.5 215.4,725.4 217.7,725.5 219.7,725.8 221.3,726.3 221.9,726.8 221.9,727.1 221.7,727.3 220.7,727.7 219.2,728.1 217.2,728.3Z M215.7,727.8 214.4,727.8 213.0,727.6 212.2,727.3 211.8,727.1 211.7,726.8 212.1,726.6 212.9,726.3 215.4,726.0 217.9,726.3 218.8,726.6 219.1,726.8 219.1,727.1 218.7,727.3 217.9,727.5 215.7,727.8Z" fill="none" stroke="#111" stroke-width="0.55" clip-path="url(#f11)"/>
<ellipse cx="213" cy="726.5" rx="8.5" ry="1.9" fill="#000" clip-path="url(#f11)"/>
<path d="M158.2,646.1 H240.5" stroke="#b0b0b0" stroke-width="1.2" fill="none"/>
<path d="M240.5,646.1 V727.1" stroke="#999" stroke-width="1" fill="none"/>
<path d="M158.2,645.6 V727.1 H240.5" stroke="#6a6a6a" stroke-width="1" fill="none"/>
<path d="M158.2,727.1h-2.2M158.2,721.0h-1.2M158.2,717.4h-1.2M158.2,714.9h-1.2M158.2,712.9h-1.2M158.2,711.3h-1.2M158.2,710.0h-1.2M158.2,708.8h-1.2M158.2,707.8h-1.2M158.2,706.9h-2.2M158.2,700.8h-1.2M158.2,697.2h-1.2M158.2,694.7h-1.2M158.2,692.7h-1.2M158.2,691.1h-1.2M158.2,689.7h-1.2M158.2,688.6h-1.2M158.2,687.5h-1.2M158.2,686.6h-2.2M158.2,680.5h-1.2M158.2,676.9h-1.2M158.2,674.4h-1.2M158.2,672.4h-1.2M158.2,670.8h-1.2M158.2,669.5h-1.2M158.2,668.3h-1.2M158.2,667.3h-1.2M158.2,666.4h-2.2M158.2,660.3h-1.2M158.2,656.7h-1.2M158.2,654.2h-1.2M158.2,652.2h-1.2M158.2,650.6h-1.2M158.2,649.2h-1.2M158.2,648.1h-1.2M158.2,647.0h-1.2M158.2,646.1h-2.2M158.2,727.1v2.2M164.4,727.1v1.2M168.0,727.1v1.2M170.6,727.1v1.2M172.6,727.1v1.2M174.2,727.1v1.2M175.6,727.1v1.2M176.8,727.1v1.2M177.8,727.1v1.2M178.8,727.1v2.2M185.0,727.1v1.2M188.6,727.1v1.2M191.2,727.1v1.2M193.2,727.1v1.2M194.8,727.1v1.2M196.2,727.1v1.2M197.4,727.1v1.2M198.4,727.1v1.2M199.3,727.1v2.2M205.5,727.1v1.2M209.2,727.1v1.2M211.7,727.1v1.2M213.7,727.1v1.2M215.4,727.1v1.2M216.7,727.1v1.2M217.9,727.1v1.2M219.0,727.1v1.2M219.9,727.1v2.2M226.1,727.1v1.2M229.7,727.1v1.2M232.3,727.1v1.2M234.3,727.1v1.2M235.9,727.1v1.2M237.3,727.1v1.2M238.5,727.1v1.2M239.6,727.1v1.2M240.5,727.1v2.2" stroke="#333" stroke-width="0.6" fill="none"/>
<clipPath id="f12"><rect x="245.3" y="646.1" width="81.09999999999997" height="81.0"/></clipPath>
<path d="M311.5,688.7h0.64M294.9,698.9h0.64M284.1,695.1h0.64M287.3,700.8h0.64M295.5,714.2h0.64M293.8,715.0h0.64M295.8,702.8h0.64M289.7,689.8h0.64M277.4,700.5h0.64M290.0,705.2h0.64M294.5,686.3h0.64M285.1,688.0h0.64M300.4,699.9h0.64M292.5,690.5h0.64M280.1,694.3h0.64M290.5,706.7h0.64M277.9,705.1h0.64M283.7,695.0h0.64M288.4,696.1h0.64M295.5,711.6h0.64M294.4,694.8h0.64M295.1,705.6h0.64M299.0,704.3h0.64M277.0,692.2h0.64M287.8,712.1h0.64M290.2,711.9h0.64M294.0,687.1h0.64M291.8,707.7h0.64M295.0,683.6h0.64M295.1,694.2h0.64M272.7,694.4h0.64M273.9,686.1h0.64M300.8,706.3h0.64M308.2,705.2h0.64M282.7,672.1h0.64M299.4,674.5h0.64M266.0,693.4h0.64M291.9,690.9h0.64M300.6,700.1h0.64M293.2,706.5h0.64M286.2,703.7h0.64M312.2,690.1h0.64M292.9,707.5h0.64M286.6,700.7h0.64M276.1,696.1h0.64M291.8,714.6h0.64M299.9,694.4h0.64M281.5,723.2h0.64M299.5,678.5h0.64M288.5,690.6h0.64M286.1,680.8h0.64M287.8,695.2h0.64M289.4,713.8h0.64M293.6,686.8h0.64M276.0,695.1h0.64M301.9,712.7h0.64M286.3,715.3h0.64M295.5,694.2h0.64M295.5,700.5h0.64M281.6,696.3h0.64M293.1,717.3h0.64M282.3,704.4h0.64M291.8,701.0h0.64M280.7,716.7h0.64M303.4,720.8h0.64M295.9,719.4h0.64M296.6,713.6h0.64M288.7,704.3h0.64M288.8,689.0h0.64M287.8,688.1h0.64M281.7,697.0h0.64M286.3,726.5h0.64M307.8,714.7h0.64M298.9,691.3h0.64M294.3,684.3h0.64M286.1,695.9h0.64M288.5,712.1h0.64M287.2,712.0h0.64M277.5,712.7h0.64M280.7,704.1h0.64M291.7,711.7h0.64M297.3,706.5h0.64M290.5,725.4h0.64M287.6,701.9h0.64M287.6,703.4h0.64M283.1,696.8h0.64M296.4,694.8h0.64M296.0,694.7h0.64M304.7,700.1h0.64M307.7,707.8h0.64M290.6,713.2h0.64M302.4,720.2h0.64M304.4,712.6h0.64M281.2,713.0h0.64M291.0,706.7h0.64M303.3,693.1h0.64M296.9,698.0h0.64M304.3,704.0h0.64M301.4,716.9h0.64M278.1,705.7h0.64M278.0,693.3h0.64M297.3,687.3h0.64M285.3,696.2h0.64M294.6,705.9h0.64M295.8,695.6h0.64M285.0,706.7h0.64M283.9,691.9h0.64M298.1,692.1h0.64M283.6,715.3h0.64M291.3,674.7h0.64M284.9,725.2h0.64M317.4,698.0h0.64M298.1,710.5h0.64M294.5,679.6h0.64M300.7,705.0h0.64M289.5,682.0h0.64M286.0,700.2h0.64M289.4,704.3h0.64M288.2,713.6h0.64M297.3,687.6h0.64M286.2,706.6h0.64M286.7,718.4h0.64M286.8,704.5h0.64M297.1,687.9h0.64M302.9,699.0h0.64M285.2,693.1h0.64M276.3,685.1h0.64M305.1,699.9h0.64M289.1,703.8h0.64M296.8,691.9h0.64M289.7,704.8h0.64M300.8,704.5h0.64M306.6,698.9h0.64M288.6,684.8h0.64M291.2,709.2h0.64M289.4,699.4h0.64M282.8,694.4h0.64M287.6,700.4h0.64M301.3,707.6h0.64M299.9,715.6h0.64M287.4,717.6h0.64M292.0,685.6h0.64M286.1,700.4h0.64M291.1,711.7h0.64M280.7,702.6h0.64M293.9,692.3h0.64M293.9,701.4h0.64M294.9,686.9h0.64M296.2,698.0h0.64M283.9,675.0h0.64M289.8,696.9h0.64M312.9,686.9h0.64M304.9,716.4h0.64M295.3,704.4h0.64M296.0,683.6h0.64M304.3,697.5h0.64M284.8,701.3h0.64M266.8,685.4h0.64M280.9,682.5h0.64M296.8,720.5h0.64M291.6,697.4h0.64M294.4,695.2h0.64M292.7,706.2h0.64M289.4,696.3h0.64M292.1,702.0h0.64M297.5,683.1h0.64M281.4,695.4h0.64M295.8,685.7h0.64M302.3,718.5h0.64M284.8,714.6h0.64M272.6,700.0h0.64M276.9,714.1h0.64M299.0,707.2h0.64M286.1,687.5h0.64M295.0,694.9h0.64M297.4,681.8h0.64M295.1,707.2h0.64M270.8,685.7h0.64M284.8,693.7h0.64M275.6,701.1h0.64M280.9,699.9h0.64M274.6,686.6h0.64M297.4,680.2h0.64M290.8,718.2h0.64M298.3,684.9h0.64M311.1,694.1h0.64M299.5,712.3h0.64M288.2,708.3h0.64M266.2,701.8h0.64M292.5,696.6h0.64M292.1,713.5h0.64M299.5,693.2h0.64M298.1,714.8h0.64M292.0,705.4h0.64M269.0,681.8h0.64M294.4,682.7h0.64M298.6,714.6h0.64M282.1,686.7h0.64M289.2,703.3h0.64M298.4,697.9h0.64M291.3,688.6h0.64M293.5,691.3h0.64M300.0,709.0h0.64M276.2,704.7h0.64M281.0,712.1h0.64M281.6,715.7h0.64M300.5,724.0h0.64M293.9,701.1h0.64M301.8,685.8h0.64M290.5,696.7h0.64M290.3,681.5h0.64M275.7,680.0h0.64M304.1,696.4h0.64M296.5,699.0h0.64M288.7,716.1h0.64M270.0,697.8h0.64M283.8,689.4h0.64M276.3,682.0h0.64M280.0,713.5h0.64M284.6,694.8h0.64M289.2,707.9h0.64M300.1,702.7h0.64M290.9,706.7h0.64M283.7,703.0h0.64M306.0,692.6h0.64M283.1,682.0h0.64M291.3,707.9h0.64M287.0,696.5h0.64M301.4,700.8h0.64M297.1,696.1h0.64M302.5,711.4h0.64M289.6,693.4h0.64M313.7,687.7h0.64M282.2,670.7h0.64M297.1,701.3h0.64M290.2,682.3h0.64M291.1,691.1h0.64M280.5,697.7h0.64M293.7,698.8h0.64M286.5,709.4h0.64M293.2,696.2h0.64M296.1,704.2h0.64M299.2,710.5h0.64M297.6,693.6h0.64M302.8,712.6h0.64M286.2,715.6h0.64M291.9,688.8h0.64M290.7,685.4h0.64M301.1,685.7h0.64M304.1,690.4h0.64M289.9,715.9h0.64M294.2,681.2h0.64M289.9,679.1h0.64M297.1,688.6h0.64M290.3,699.2h0.64M277.6,704.7h0.64M307.0,689.9h0.64M286.0,705.2h0.64M301.9,690.4h0.64M292.9,705.1h0.64M300.5,691.1h0.64M313.1,725.1h0.64M279.0,691.5h0.64M294.4,693.3h0.64M286.5,701.0h0.64M284.7,693.7h0.64M293.1,696.2h0.64M294.5,713.4h0.64M301.2,702.1h0.64M309.5,696.4h0.64M299.2,722.5h0.64M293.0,710.8h0.64M287.1,694.4h0.64M293.1,706.8h0.64M294.6,709.0h0.64M294.2,700.2h0.64M286.0,699.9h0.64M291.9,701.1h0.64M281.8,716.2h0.64M301.1,704.0h0.64M287.2,714.3h0.64M289.5,698.5h0.64M296.8,694.9h0.64M292.7,695.7h0.64M296.9,706.4h0.64M297.9,706.6h0.64M294.4,705.9h0.64M298.6,690.2h0.64M281.3,702.3h0.64M293.0,698.6h0.64M304.8,707.0h0.64M302.7,702.6h0.64M279.6,685.5h0.64M301.1,702.1h0.64M287.4,716.6h0.64M306.8,706.1h0.64" stroke="#777" stroke-width="0.64" fill="none"/>
<path d="M300.8,719.9 299.3,720.0 297.8,719.8 296.3,719.1 295.1,718.1 294.5,717.4 293.8,716.1 289.8,711.7 288.3,710.6 286.9,709.1 285.7,707.1 280.2,699.1 279.7,698.1 279.1,695.9 279.0,693.4 279.4,691.1 280.2,688.9 281.4,686.9 282.8,685.2 284.8,683.7 286.8,682.8 289.1,682.2 291.3,682.0 293.6,682.3 295.6,682.9 297.6,684.0 299.3,685.4 300.8,687.1 301.9,689.1 304.3,698.9 304.7,700.1 305.0,701.6 305.1,703.6 304.8,705.6 305.0,711.6 305.4,713.1 305.5,714.4 305.1,716.1 304.6,717.1 304.1,717.9 303.3,718.6 302.6,719.2 300.8,719.9Z M300.6,717.4 299.8,717.5 298.8,717.4 298.1,717.2 297.3,716.7 296.7,716.1 296.2,715.4 293.8,713.0 290.8,709.6 289.3,708.4 288.5,707.4 287.8,706.1 284.4,701.4 282.0,697.6 281.4,695.9 281.3,693.9 281.5,691.9 282.1,690.1 282.9,688.6 284.1,687.1 285.6,685.9 287.3,685.0 289.1,684.5 290.8,684.3 292.8,684.4 294.6,684.9 296.3,685.8 297.8,687.0 299.1,688.5 299.9,690.1 302.1,699.9 302.6,701.4 302.8,702.9 302.6,704.9 302.8,709.4 302.8,712.6 303.0,713.6 303.0,714.6 302.6,715.6 302.1,716.4 301.3,717.0 300.6,717.4Z M299.8,714.4 299.3,714.4 298.1,714.0 296.3,713.0 294.3,711.2 291.7,708.4 290.5,707.4 285.6,700.6 283.3,697.2 282.8,695.6 282.7,694.1 282.8,692.4 283.3,690.9 284.1,689.4 285.1,688.1 286.3,687.1 287.8,686.3 289.3,685.8 290.8,685.7 292.6,685.8 294.1,686.2 295.6,687.0 296.8,688.0 297.8,689.2 298.6,690.6 301.3,702.6 301.1,704.6 301.2,708.1 301.1,710.9 300.7,712.6 300.0,713.9 299.8,714.4Z M298.3,711.0 297.8,711.1 297.3,711.0 296.1,710.5 294.8,709.5 292.6,707.4 291.6,706.6 287.2,700.9 284.4,696.9 284.0,695.6 283.8,694.1 283.9,692.6 284.3,691.4 284.9,690.1 285.8,689.0 286.8,688.1 288.1,687.4 289.3,687.0 290.8,686.8 292.3,686.9 293.6,687.2 294.8,687.9 295.8,688.6 296.8,689.7 297.6,691.0 298.7,695.9 300.0,702.9 299.8,704.4 299.7,707.4 299.5,708.9 299.1,710.2 298.8,710.6 298.3,711.0Z M297.1,707.9 296.3,708.0 295.6,707.7 292.4,705.6 291.6,704.4 288.1,700.3 285.2,696.4 284.8,695.1 284.7,693.9 284.9,692.6 285.2,691.6 285.7,690.6 286.6,689.6 287.6,688.8 288.6,688.2 289.6,687.9 290.8,687.7 292.1,687.8 293.3,688.2 294.3,688.7 295.3,689.5 296.1,690.4 296.7,691.4 297.7,696.4 298.3,701.4 298.7,702.9 298.6,703.6 298.0,706.6 297.6,707.5 297.1,707.9Z M295.3,705.1 294.6,705.1 293.8,704.8 293.3,704.4 293.0,703.9 291.1,702.1 288.3,699.0 286.2,696.4 286.0,695.9 285.7,694.9 285.6,693.9 285.8,692.9 286.1,691.9 286.7,690.9 287.3,690.1 288.1,689.5 289.1,689.0 290.1,688.7 291.1,688.6 292.1,688.7 293.1,689.1 294.1,689.6 294.8,690.2 295.5,691.1 295.9,691.9 296.9,697.6 297.0,700.1 297.0,702.1 297.1,703.1 297.0,703.9 296.6,704.5 296.1,704.9 295.3,705.1Z M294.6,701.9 294.1,702.0 293.3,701.9 292.6,701.5 291.6,700.8 289.3,698.7 286.8,695.6 286.6,694.9 286.5,693.9 286.9,692.4 287.2,691.6 287.8,690.9 288.6,690.3 289.3,689.9 290.8,689.5 291.8,689.6 292.6,689.8 293.3,690.2 294.1,690.7 294.6,691.4 295.0,692.1 295.6,695.9 295.7,698.9 295.6,700.1 295.4,700.9 295.1,701.5 294.6,701.9Z M293.6,699.1 293.1,699.3 292.6,699.3 291.3,698.8 289.6,697.3 287.8,695.4 287.5,694.1 287.7,692.9 288.0,692.1 288.4,691.6 289.4,690.9 290.8,690.5 292.1,690.6 293.3,691.3 294.1,692.4 294.4,694.4 294.4,696.9 294.1,698.4 293.6,699.1Z M292.1,696.6 291.3,696.6 290.6,696.3 289.6,695.6 288.8,694.9 288.6,693.9 288.8,693.1 289.3,692.3 290.1,691.8 290.8,691.6 291.8,691.7 292.6,692.2 293.1,692.9 293.2,693.9 293.0,695.4 292.6,696.3 292.1,696.6Z" fill="none" stroke="#333" stroke-width="0.6" clip-path="url(#f12)"/>
<path d="M302.1,730.6 299.6,730.7 296.8,730.6 290.1,730.2 286.6,729.7 284.3,729.2 282.6,728.5 281.5,727.8 281.2,727.3 281.1,726.8 281.5,726.1 282.5,725.3 284.1,724.7 286.1,724.2 290.1,723.6 299.1,723.1 301.6,723.2 307.1,723.7 313.6,723.8 317.1,724.1 319.3,724.6 321.1,725.3 322.1,726.1 322.5,726.8 322.3,727.6 321.3,728.4 319.6,729.1 317.3,729.6 314.1,730.0 307.1,730.1 302.1,730.6Z M300.8,730.1 298.6,730.1 296.1,730.0 290.3,729.5 287.8,729.2 286.1,728.8 284.6,728.2 283.7,727.6 283.5,727.3 283.4,726.8 283.9,726.1 284.7,725.6 286.0,725.1 287.6,724.7 291.6,724.2 299.1,723.7 302.1,723.8 307.1,724.4 312.6,724.4 315.6,724.7 317.3,725.1 318.8,725.6 319.6,726.1 319.9,726.3 320.1,726.8 320.0,727.3 319.8,727.6 319.2,728.1 317.8,728.6 316.1,729.0 312.8,729.3 306.8,729.4 300.8,730.1Z M302.3,729.3 300.1,729.5 297.6,729.5 290.1,728.7 288.1,728.3 286.8,727.8 286.1,727.3 286.0,726.8 286.3,726.3 286.8,726.0 287.9,725.6 289.1,725.3 295.3,724.5 299.1,724.3 301.8,724.4 307.3,725.2 312.1,725.3 314.1,725.4 315.6,725.7 316.6,726.0 317.1,726.4 317.4,726.8 317.2,727.3 316.6,727.7 314.6,728.3 312.3,728.5 307.1,728.6 302.3,729.3Z M301.3,728.8 299.6,729.0 297.8,728.9 292.9,728.3 291.1,728.0 289.7,727.6 289.3,727.3 289.1,727.1 289.1,726.8 289.6,726.3 291.6,725.7 296.1,725.0 299.1,724.8 301.1,724.9 303.2,725.3 305.7,726.1 307.7,726.8 307.6,727.1 304.8,728.1 302.9,728.6 301.3,728.8Z M311.8,727.1 310.4,727.1 310.2,726.8 311.3,726.7 312.0,726.8 311.8,727.1Z M300.6,728.3 298.3,728.4 295.8,728.1 293.6,727.4 293.1,727.1 293.0,726.8 293.8,726.3 295.6,725.8 297.3,725.5 299.1,725.4 300.8,725.5 302.2,725.8 303.4,726.3 303.9,726.8 303.8,727.1 303.7,727.3 303.1,727.7 302.0,728.1 300.6,728.3Z M299.3,727.8 297.0,727.6 296.3,727.3 296.0,727.1 296.0,726.8 296.2,726.6 296.8,726.3 298.1,726.1 299.1,726.0 300.1,726.1 301.1,726.3 301.7,726.6 301.9,726.8 301.9,727.1 301.6,727.3 301.1,727.5 299.3,727.8Z" fill="none" stroke="#111" stroke-width="0.55" clip-path="url(#f12)"/>
<ellipse cx="300" cy="726.5" rx="8.5" ry="1.9" fill="#000" clip-path="url(#f12)"/>
<path d="M245.3,646.1 H326.4" stroke="#b0b0b0" stroke-width="1.2" fill="none"/>
<path d="M326.4,646.1 V727.1" stroke="#999" stroke-width="1" fill="none"/>
<path d="M245.3,645.6 V727.1 H326.4" stroke="#6a6a6a" stroke-width="1" fill="none"/>
<path d="M245.3,727.1h-2.2M245.3,721.0h-1.2M245.3,717.4h-1.2M245.3,714.9h-1.2M245.3,712.9h-1.2M245.3,711.3h-1.2M245.3,710.0h-1.2M245.3,708.8h-1.2M245.3,707.8h-1.2M245.3,706.9h-2.2M245.3,700.8h-1.2M245.3,697.2h-1.2M245.3,694.7h-1.2M245.3,692.7h-1.2M245.3,691.1h-1.2M245.3,689.7h-1.2M245.3,688.6h-1.2M245.3,687.5h-1.2M245.3,686.6h-2.2M245.3,680.5h-1.2M245.3,676.9h-1.2M245.3,674.4h-1.2M245.3,672.4h-1.2M245.3,670.8h-1.2M245.3,669.5h-1.2M245.3,668.3h-1.2M245.3,667.3h-1.2M245.3,666.4h-2.2M245.3,660.3h-1.2M245.3,656.7h-1.2M245.3,654.2h-1.2M245.3,652.2h-1.2M245.3,650.6h-1.2M245.3,649.2h-1.2M245.3,648.1h-1.2M245.3,647.0h-1.2M245.3,646.1h-2.2M245.3,727.1v2.2M251.4,727.1v1.2M255.0,727.1v1.2M257.5,727.1v1.2M259.5,727.1v1.2M261.1,727.1v1.2M262.4,727.1v1.2M263.6,727.1v1.2M264.6,727.1v1.2M265.6,727.1v2.2M271.7,727.1v1.2M275.2,727.1v1.2M277.8,727.1v1.2M279.7,727.1v1.2M281.4,727.1v1.2M282.7,727.1v1.2M283.9,727.1v1.2M284.9,727.1v1.2M285.9,727.1v2.2M292.0,727.1v1.2M295.5,727.1v1.2M298.1,727.1v1.2M300.0,727.1v1.2M301.6,727.1v1.2M303.0,727.1v1.2M304.2,727.1v1.2M305.2,727.1v1.2M306.1,727.1v2.2M312.2,727.1v1.2M315.8,727.1v1.2M318.3,727.1v1.2M320.3,727.1v1.2M321.9,727.1v1.2M323.3,727.1v1.2M324.4,727.1v1.2M325.5,727.1v1.2M326.4,727.1v2.2" stroke="#333" stroke-width="0.6" fill="none"/>
<rect x="76.5" y="543.7" width="20.200000000000003" height="32.299999999999955" fill="none" stroke="#8a8ad2" stroke-width="0.8"/>
<rect x="96.7" y="543.7" width="4.799999999999997" height="32.299999999999955" fill="none" stroke="#6464b4" stroke-width="1.0"/>
<rect x="101.5" y="543.7" width="46.5" height="32.799999999999955" fill="none" stroke="#8a8ad2" stroke-width="0.9"/>
<line x1="101.5" y1="576.5" x2="148.0" y2="576.5" stroke="#6464b4" stroke-width="1.0" />
<path d="M101.5,617.5 V582.3 H148.7 V617.5" fill="none" stroke="#8a8ad2" stroke-width="0.9"/>
<line x1="89.0" y1="582.3" x2="101.5" y2="575.4" stroke="#000" stroke-width="0.9" />
<line x1="92.9" y1="589.8" x2="105.4" y2="579.4" stroke="#000" stroke-width="0.9" />
<text x="85.3" y="562.5" font-size="8.2" text-anchor="middle" fill="#222" >0</text>
<text x="124.6" y="562.5" font-size="8.2" text-anchor="middle" fill="#222" >1</text>
<text x="83.3" y="588.5" font-size="8.2" text-anchor="middle" fill="#222" >0</text>
<text x="90.0" y="598.7" font-size="8.2" text-anchor="middle" fill="#222" >2</text>
<text x="113.5" y="609.2" font-size="8.2" text-anchor="middle" fill="#222" >97</text>
<rect x="76.5" y="653.2" width="20.200000000000003" height="32.299999999999955" fill="none" stroke="#8a8ad2" stroke-width="0.8"/>
<rect x="96.7" y="653.2" width="4.799999999999997" height="32.299999999999955" fill="none" stroke="#6464b4" stroke-width="1.0"/>
<rect x="101.5" y="653.2" width="46.5" height="32.799999999999955" fill="none" stroke="#8a8ad2" stroke-width="0.9"/>
<line x1="101.5" y1="686.5" x2="148.0" y2="686.5" stroke="#6464b4" stroke-width="1.0" />
<path d="M101.5,727.0 V691.8 H148.7 V727.0" fill="none" stroke="#8a8ad2" stroke-width="0.9"/>
<line x1="89.0" y1="691.8" x2="101.5" y2="684.9" stroke="#000" stroke-width="0.9" />
<line x1="92.9" y1="699.3" x2="105.4" y2="688.9" stroke="#000" stroke-width="0.9" />
<text x="87.7" y="671.9" font-size="8.2" text-anchor="middle" fill="#222" >0</text>
<text x="125.0" y="671.9" font-size="8.2" text-anchor="middle" fill="#222" >18</text>
<text x="82.3" y="697.5" font-size="8.2" text-anchor="middle" fill="#222" >0.3</text>
<text x="90.4" y="710.0" font-size="8.2" text-anchor="middle" fill="#222" >16</text>
<text x="111.7" y="718.7" font-size="8.2" text-anchor="middle" fill="#222" >53</text>
<text x="340.2" y="338.6" font-size="13.4" font-weight="bold" fill="#000">G</text>
<line x1="386.5" y1="340" x2="386.5" y2="426.8" stroke="#1a1a1a" stroke-width="1" />
<line x1="386.5" y1="426.5" x2="509.8" y2="426.5" stroke="#1a1a1a" stroke-width="1" />
<line x1="383.5" y1="343.5" x2="386.5" y2="343.5" stroke="#1a1a1a" stroke-width="1" />
<text x="380.5" y="345.90000000000003" font-size="8.2" text-anchor="end" fill="#222" >2.0</text>
<line x1="383.5" y1="364.5" x2="386.5" y2="364.5" stroke="#1a1a1a" stroke-width="1" />
<text x="380.5" y="366.8" font-size="8.2" text-anchor="end" fill="#222" >1.5</text>
<line x1="383.5" y1="384.5" x2="386.5" y2="384.5" stroke="#1a1a1a" stroke-width="1" />
<text x="380.5" y="387.6" font-size="8.2" text-anchor="end" fill="#222" >1.0</text>
<line x1="383.5" y1="405.5" x2="386.5" y2="405.5" stroke="#1a1a1a" stroke-width="1" />
<text x="380.5" y="408.40000000000003" font-size="8.2" text-anchor="end" fill="#222" >0.5</text>
<line x1="383.5" y1="426.5" x2="386.5" y2="426.5" stroke="#1a1a1a" stroke-width="1" />
<text x="380.5" y="429.1" font-size="8.2" text-anchor="end" fill="#222" >0.0</text>
<rect x="457.9" y="394.4" width="35" height="31.900000000000034" fill="#2E4B7E" />
<line x1="475.5" y1="375.4" x2="475.5" y2="411.8" stroke="#111" stroke-width="0.9" />
<line x1="466.9" y1="375.5" x2="483.9" y2="375.5" stroke="#111" stroke-width="0.9" />
<line x1="466.9" y1="411.5" x2="483.9" y2="411.5" stroke="#111" stroke-width="0.9" />
<circle cx="475.3" cy="357.3" r="1.8" fill="#000"/>
<circle cx="471.4" cy="413.1" r="1.8" fill="#000"/>
<circle cx="478.6" cy="410.5" r="1.8" fill="#000"/>
<circle cx="415.0" cy="426.3" r="1.8" fill="#000"/>
<circle cx="421.6" cy="426.3" r="1.8" fill="#000"/>
<circle cx="428.4" cy="426.3" r="1.8" fill="#000"/>
<line x1="422.5" y1="426.3" x2="422.5" y2="429.5" stroke="#1a1a1a" stroke-width="1" />
<line x1="475.5" y1="426.3" x2="475.5" y2="429.5" stroke="#1a1a1a" stroke-width="1" />
<text x="447.8" y="346.9" font-size="8.2" text-anchor="middle" fill="#222" >III, p=0.1</text>
<line x1="386.5" y1="440" x2="386.5" y2="533.8" stroke="#1a1a1a" stroke-width="1" />
<line x1="386.5" y1="533.5" x2="512.3" y2="533.5" stroke="#1a1a1a" stroke-width="1" />
<line x1="383.5" y1="533.5" x2="386.5" y2="533.5" stroke="#1a1a1a" stroke-width="1" />
<text x="380.5" y="536.0999999999999" font-size="8.2" text-anchor="end" fill="#222" >0</text>
<line x1="383.5" y1="503.5" x2="386.5" y2="503.5" stroke="#1a1a1a" stroke-width="1" />
<text x="380.5" y="505.9" font-size="8.2" text-anchor="end" fill="#222" >2</text>
<line x1="383.5" y1="472.5" x2="386.5" y2="472.5" stroke="#1a1a1a" stroke-width="1" />
<text x="380.5" y="475.7" font-size="8.2" text-anchor="end" fill="#222" >4</text>
<line x1="383.5" y1="442.5" x2="386.5" y2="442.5" stroke="#1a1a1a" stroke-width="1" />
<text x="380.5" y="445.49999999999994" font-size="8.2" text-anchor="end" fill="#222" >6</text>
<rect x="405.1" y="529.2" width="35.4" height="4.099999999999909" fill="#A1002B" />
<rect x="459.8" y="472.6" width="35.1" height="60.69999999999993" fill="#2E4B7E" />
<line x1="422.5" y1="524.2" x2="422.5" y2="536.5" stroke="#111" stroke-width="0.9" />
<line x1="413.7" y1="524.5" x2="431.90000000000003" y2="524.5" stroke="#111" stroke-width="0.9" />
<line x1="477.5" y1="462.9" x2="477.5" y2="480.6" stroke="#111" stroke-width="0.9" />
<line x1="467.90000000000003" y1="462.5" x2="486.7" y2="462.5" stroke="#111" stroke-width="0.9" />
<line x1="467.90000000000003" y1="480.5" x2="486.7" y2="480.5" stroke="#111" stroke-width="0.9" />
<circle cx="422.8" cy="520.8" r="1.8" fill="#000"/>
<circle cx="419.2" cy="533.2" r="1.8" fill="#000"/>
<circle cx="426.6" cy="530.8" r="1.8" fill="#000"/>
<circle cx="477.2" cy="456.5" r="1.8" fill="#000"/>
<circle cx="477.2" cy="471.7" r="1.8" fill="#000"/>
<circle cx="477.2" cy="486.6" r="1.8" fill="#000"/>
<line x1="477.5" y1="533.3" x2="477.5" y2="536.5" stroke="#1a1a1a" stroke-width="1" />
<text x="449.0" y="446.6" font-size="8.2" text-anchor="middle" fill="#222" >IV, p=0.04</text>
<line x1="386.5" y1="557.8" x2="386.5" y2="648.0" stroke="#1a1a1a" stroke-width="1" />
<line x1="386.5" y1="647.5" x2="512.4" y2="647.5" stroke="#1a1a1a" stroke-width="1" />
<line x1="383.5" y1="560.5" x2="386.5" y2="560.5" stroke="#1a1a1a" stroke-width="1" />
<text x="380.8" y="563.1999999999999" font-size="8.2" text-anchor="end" fill="#222" >100</text>
<line x1="383.5" y1="589.5" x2="386.5" y2="589.5" stroke="#1a1a1a" stroke-width="1" />
<text x="380.8" y="592.3" font-size="8.2" text-anchor="end" fill="#222" >95</text>
<line x1="383.5" y1="618.5" x2="386.5" y2="618.5" stroke="#1a1a1a" stroke-width="1" />
<text x="380.8" y="621.3" font-size="8.2" text-anchor="end" fill="#222" >90</text>
<line x1="383.5" y1="647.5" x2="386.5" y2="647.5" stroke="#1a1a1a" stroke-width="1" />
<text x="380.8" y="650.3" font-size="8.2" text-anchor="end" fill="#222" >85</text>
<rect x="405.5" y="566.0" width="35.2" height="81.5" fill="#A1002B" />
<rect x="460.7" y="600.0" width="35.1" height="47.5" fill="#2E4B7E" />
<line x1="423.5" y1="561.3" x2="423.5" y2="568.9" stroke="#111" stroke-width="0.9" />
<line x1="414.0" y1="561.5" x2="432.6" y2="561.5" stroke="#111" stroke-width="0.9" />
<line x1="414.0" y1="568.5" x2="432.6" y2="568.5" stroke="#111" stroke-width="0.9" />
<line x1="478.5" y1="591.8" x2="478.5" y2="606.0" stroke="#111" stroke-width="0.9" />
<line x1="468.90000000000003" y1="591.5" x2="487.3" y2="591.5" stroke="#111" stroke-width="0.9" />
<line x1="468.90000000000003" y1="606.5" x2="487.3" y2="606.5" stroke="#111" stroke-width="0.9" />
<circle cx="419.4" cy="562.0" r="1.8" fill="#000"/>
<circle cx="426.3" cy="560.8" r="1.8" fill="#000"/>
<circle cx="423.4" cy="572.4" r="1.8" fill="#000"/>
<circle cx="478.1" cy="590.2" r="1.8" fill="#000"/>
<circle cx="478.1" cy="593.4" r="1.8" fill="#000"/>
<circle cx="478.1" cy="613.0" r="1.8" fill="#000"/>
<line x1="423.5" y1="647.5" x2="423.5" y2="651" stroke="#1a1a1a" stroke-width="1" />
<line x1="478.5" y1="647.5" x2="478.5" y2="651" stroke="#1a1a1a" stroke-width="1" />
<text x="448.6" y="552.6" font-size="8.2" text-anchor="middle" fill="#222" >V, p=0.01</text>
<text x="423.3" y="661.9" font-size="8.2" text-anchor="middle" fill="#222" >Parental</text>
<text x="478.2" y="661.9" font-size="8.2" text-anchor="middle" fill="#222" ><tspan font-style="italic">TP53</tspan> KO</text>
<path d="M409.4,667.2 Q409.4,672.1 413,672.1 L446,672.1 Q449.6,672.1 449.6,676.7 Q449.6,672.1 453.2,672.1 L486,672.1 Q489.6,672.1 489.6,667.2" fill="none" stroke="#222" stroke-width="0.9"/>
<text x="449.7" y="688.4" font-size="8.2" text-anchor="middle" fill="#222" >No dox</text>
<text transform="translate(358.5,486.65) rotate(-90)" x="0" y="0" font-size="10.3" text-anchor="middle" textLength="80.90000000000003" lengthAdjust="spacingAndGlyphs" fill="#222" font-weight="normal">Percentage in each stage</text>
<rect x="0.5" y="0.5" width="519" height="759" fill="none" stroke="#000" stroke-width="1.2"/>
</svg>
</body></html>
